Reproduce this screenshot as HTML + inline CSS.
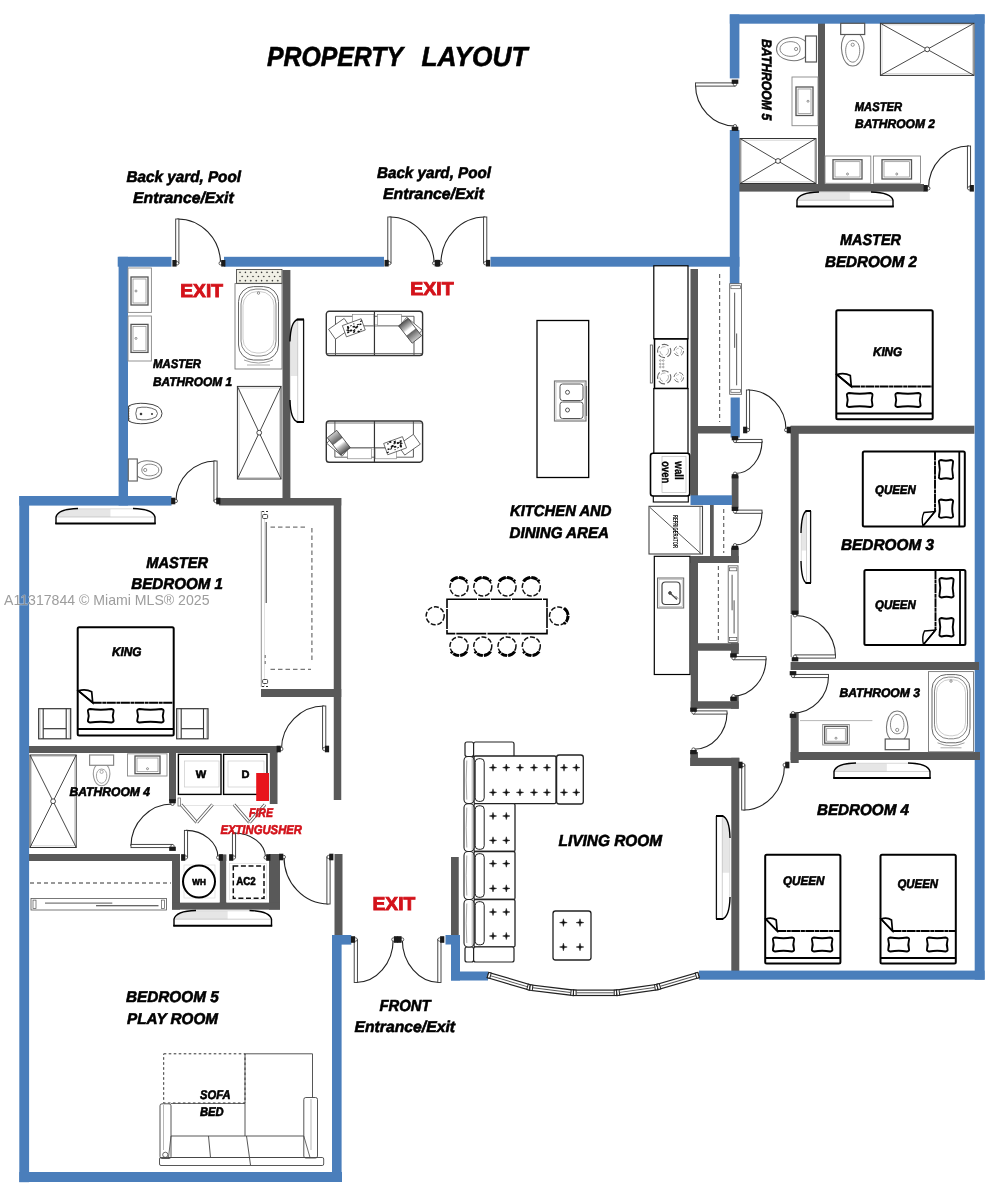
<!DOCTYPE html>
<html lang="en"><head><meta charset="utf-8"><title>Property Layout</title>
<style>html,body{margin:0;padding:0;background:#fff;}svg{display:block;will-change:transform;}</style></head>
<body>
<svg width="1001" height="1200" viewBox="0 0 1001 1200">
<rect width="1001" height="1200" fill="#fff"/>
<defs><linearGradient id="stripe" x1="0" y1="0" x2="1" y2="0">
<stop offset="0" stop-color="#555"/><stop offset="0.3" stop-color="#bbb"/><stop offset="0.42" stop-color="#fff"/><stop offset="0.55" stop-color="#fff"/><stop offset="0.6" stop-color="#666"/><stop offset="1" stop-color="#ccc"/></linearGradient></defs>
<rect x="282.50" y="270.00" width="7.90" height="228.00" fill="#595959" />
<rect x="219.00" y="498.00" width="122.25" height="7.50" fill="#595959" />
<rect x="333.75" y="498.00" width="7.50" height="302.00" fill="#595959" />
<rect x="261.00" y="689.00" width="80.25" height="8.00" fill="#595959" />
<rect x="29.00" y="746.00" width="248.50" height="7.00" fill="#595959" />
<rect x="269.80" y="746.00" width="7.70" height="58.00" fill="#595959" />
<rect x="169.00" y="753.00" width="7.00" height="48.00" fill="#595959" />
<rect x="28.00" y="854.00" width="152.00" height="7.00" fill="#595959" />
<rect x="172.00" y="854.00" width="8.00" height="55.60" fill="#595959" />
<rect x="219.60" y="854.40" width="6.80" height="48.60" fill="#595959" />
<rect x="269.00" y="854.00" width="11.00" height="55.60" fill="#595959" />
<rect x="172.00" y="902.40" width="108.00" height="7.20" fill="#595959" />
<rect x="334.50" y="854.00" width="8.00" height="81.00" fill="#595959" />
<rect x="451.00" y="857.00" width="7.75" height="78.00" fill="#595959" />
<rect x="818.00" y="23.00" width="7.00" height="161.00" fill="#595959" />
<rect x="739.00" y="184.00" width="185.00" height="7.60" fill="#595959" />
<rect x="690.50" y="269.00" width="7.50" height="227.00" fill="#595959" />
<rect x="698.00" y="426.00" width="33.00" height="7.50" fill="#595959" />
<rect x="790.60" y="425.70" width="183.80" height="8.10" fill="#595959" />
<rect x="790.60" y="426.00" width="8.10" height="188.00" fill="#595959" />
<rect x="790.60" y="662.00" width="188.40" height="8.00" fill="#595959" />
<rect x="790.60" y="713.00" width="8.10" height="50.00" fill="#595959" />
<rect x="790.60" y="752.00" width="189.40" height="8.00" fill="#595959" />
<rect x="731.70" y="476.00" width="6.80" height="31.50" fill="#595959" />
<rect x="710.00" y="505.00" width="3.75" height="51.00" fill="#595959" />
<rect x="690.75" y="556.00" width="48.00" height="7.00" fill="#595959" />
<rect x="731.00" y="547.50" width="7.75" height="15.50" fill="#595959" />
<rect x="690.75" y="556.00" width="7.25" height="152.75" fill="#595959" />
<rect x="698.00" y="643.25" width="40.75" height="7.50" fill="#595959" />
<rect x="731.00" y="643.25" width="7.75" height="10.75" fill="#595959" />
<rect x="690.75" y="701.25" width="48.00" height="7.50" fill="#595959" />
<rect x="731.00" y="696.00" width="7.75" height="12.75" fill="#595959" />
<rect x="690.30" y="757.80" width="49.00" height="8.20" fill="#595959" />
<rect x="690.30" y="752.00" width="7.70" height="14.00" fill="#595959" />
<rect x="731.30" y="757.80" width="8.00" height="214.20" fill="#595959" />
<rect x="117.70" y="256.80" width="53.80" height="9.90" fill="#4a7ebb" />
<rect x="224.00" y="256.80" width="160.00" height="9.90" fill="#4a7ebb" />
<rect x="490.50" y="256.80" width="248.90" height="9.90" fill="#4a7ebb" />
<rect x="118.60" y="256.80" width="9.40" height="248.70" fill="#4a7ebb" />
<rect x="19.30" y="496.00" width="152.20" height="9.60" fill="#4a7ebb" />
<rect x="19.30" y="496.00" width="9.80" height="686.20" fill="#4a7ebb" />
<rect x="19.30" y="1172.00" width="322.70" height="10.00" fill="#4a7ebb" />
<rect x="332.00" y="935.00" width="9.60" height="247.00" fill="#4a7ebb" />
<rect x="332.00" y="935.00" width="19.30" height="9.60" fill="#4a7ebb" />
<rect x="445.50" y="935.00" width="14.50" height="9.50" fill="#4a7ebb" />
<rect x="451.00" y="935.00" width="9.00" height="45.50" fill="#4a7ebb" />
<rect x="451.00" y="971.50" width="37.00" height="9.00" fill="#4a7ebb" />
<rect x="729.80" y="14.40" width="254.80" height="9.30" fill="#4a7ebb" />
<rect x="729.80" y="14.40" width="9.60" height="64.00" fill="#4a7ebb" />
<rect x="729.80" y="130.00" width="9.60" height="154.00" fill="#4a7ebb" />
<rect x="730.60" y="397.50" width="9.20" height="40.00" fill="#4a7ebb" />
<rect x="974.70" y="14.40" width="9.90" height="965.30" fill="#4a7ebb" />
<rect x="699.00" y="970.60" width="285.60" height="9.10" fill="#4a7ebb" />
<rect x="690.50" y="495.30" width="41.50" height="9.70" fill="#4a7ebb" />
<rect x="974.00" y="662.00" width="5.00" height="8.00" fill="#595959" />
<rect x="974.00" y="752.00" width="6.00" height="8.00" fill="#595959" />
<path d="M177.3,219.0 A43.2,44.3 0 0 1 220.5,263.3" fill="none" stroke="#222" stroke-width="1.1" />
<rect x="175.70" y="219.00" width="3.20" height="44.30" fill="#fff" stroke="#333" stroke-width="0.9" rx="0" />
<circle cx="177.10" cy="263.30" r="1.70" fill="#fff" stroke="#222" stroke-width="0.7" />
<rect x="172.40" y="260.00" width="4.20" height="6.60" fill="#1a1a1a" />
<circle cx="220.70" cy="263.30" r="1.70" fill="#fff" stroke="#222" stroke-width="0.7" />
<rect x="221.20" y="260.00" width="4.20" height="6.60" fill="#1a1a1a" />
<path d="M389.4,217.0 A44.6,46.2 0 0 1 434.0,263.2" fill="none" stroke="#222" stroke-width="1.1" />
<rect x="387.80" y="217.00" width="3.20" height="46.20" fill="#fff" stroke="#333" stroke-width="0.9" rx="0" />
<circle cx="389.20" cy="263.20" r="1.70" fill="#fff" stroke="#222" stroke-width="0.7" />
<rect x="384.50" y="259.90" width="4.20" height="6.60" fill="#1a1a1a" />
<circle cx="434.20" cy="263.20" r="1.70" fill="#fff" stroke="#222" stroke-width="0.7" />
<rect x="434.70" y="259.90" width="4.20" height="6.60" fill="#1a1a1a" />
<path d="M485.2,217.0 A44.2,46.2 0 0 0 441.0,263.2" fill="none" stroke="#222" stroke-width="1.1" />
<rect x="483.60" y="217.00" width="3.20" height="46.20" fill="#fff" stroke="#333" stroke-width="0.9" rx="0" />
<circle cx="485.40" cy="263.20" r="1.70" fill="#fff" stroke="#222" stroke-width="0.7" />
<rect x="485.90" y="259.90" width="4.20" height="6.60" fill="#1a1a1a" />
<circle cx="440.80" cy="263.20" r="1.70" fill="#fff" stroke="#222" stroke-width="0.7" />
<rect x="436.10" y="259.90" width="4.20" height="6.60" fill="#1a1a1a" />
<path d="M215.5,461.0 A39.5,40.0 0 0 0 176.0,501.0" fill="none" stroke="#222" stroke-width="1.1" />
<rect x="213.90" y="461.00" width="3.20" height="40.00" fill="#fff" stroke="#333" stroke-width="0.9" rx="0" />
<circle cx="215.70" cy="501.00" r="1.70" fill="#fff" stroke="#222" stroke-width="0.7" />
<rect x="216.20" y="497.70" width="4.20" height="6.60" fill="#1a1a1a" />
<circle cx="175.80" cy="501.00" r="1.70" fill="#fff" stroke="#222" stroke-width="0.7" />
<rect x="171.10" y="497.70" width="4.20" height="6.60" fill="#1a1a1a" />
<path d="M324.2,706.0 A42.7,43.0 0 0 0 281.5,749.0" fill="none" stroke="#222" stroke-width="1.1" />
<rect x="322.60" y="706.00" width="3.20" height="43.00" fill="#fff" stroke="#333" stroke-width="0.9" rx="0" />
<circle cx="324.40" cy="749.00" r="1.70" fill="#fff" stroke="#222" stroke-width="0.7" />
<rect x="324.90" y="745.70" width="4.20" height="6.60" fill="#1a1a1a" />
<circle cx="281.30" cy="749.00" r="1.70" fill="#fff" stroke="#222" stroke-width="0.7" />
<rect x="276.60" y="745.70" width="4.20" height="6.60" fill="#1a1a1a" />
<path d="M131.0,846.0 A41.5,42.0 0 0 1 172.5,804.0" fill="none" stroke="#222" stroke-width="1.1" />
<rect x="131.00" y="844.40" width="41.50" height="3.20" fill="#fff" stroke="#333" stroke-width="0.9" rx="0" />
<circle cx="172.50" cy="846.20" r="1.70" fill="#fff" stroke="#222" stroke-width="0.7" />
<rect x="169.20" y="846.70" width="6.60" height="4.20" fill="#1a1a1a" />
<circle cx="172.50" cy="803.80" r="1.70" fill="#fff" stroke="#222" stroke-width="0.7" />
<rect x="169.20" y="799.10" width="6.60" height="4.20" fill="#1a1a1a" />
<path d="M186.0,830.4 A32.0,27.1 0 0 1 218.0,857.5" fill="none" stroke="#222" stroke-width="1.1" />
<rect x="184.40" y="830.40" width="3.20" height="27.10" fill="#fff" stroke="#333" stroke-width="0.9" rx="0" />
<circle cx="185.80" cy="857.50" r="1.70" fill="#fff" stroke="#222" stroke-width="0.7" />
<rect x="181.10" y="854.20" width="4.20" height="6.60" fill="#1a1a1a" />
<circle cx="218.20" cy="857.50" r="1.70" fill="#fff" stroke="#222" stroke-width="0.7" />
<rect x="218.70" y="854.20" width="4.20" height="6.60" fill="#1a1a1a" />
<path d="M234.0,833.0 A31.5,24.5 0 0 1 265.5,857.5" fill="none" stroke="#222" stroke-width="1.1" />
<rect x="232.40" y="833.00" width="3.20" height="24.50" fill="#fff" stroke="#333" stroke-width="0.9" rx="0" />
<circle cx="233.80" cy="857.50" r="1.70" fill="#fff" stroke="#222" stroke-width="0.7" />
<rect x="229.10" y="854.20" width="4.20" height="6.60" fill="#1a1a1a" />
<circle cx="265.70" cy="857.50" r="1.70" fill="#fff" stroke="#222" stroke-width="0.7" />
<rect x="266.20" y="854.20" width="4.20" height="6.60" fill="#1a1a1a" />
<path d="M328.5,904.0 A44.5,47.0 0 0 1 284.0,857.0" fill="none" stroke="#222" stroke-width="1.1" />
<rect x="326.90" y="857.00" width="3.20" height="47.00" fill="#fff" stroke="#333" stroke-width="0.9" rx="0" />
<circle cx="328.70" cy="857.00" r="1.70" fill="#fff" stroke="#222" stroke-width="0.7" />
<rect x="329.20" y="853.70" width="4.20" height="6.60" fill="#1a1a1a" />
<circle cx="283.80" cy="857.00" r="1.70" fill="#fff" stroke="#222" stroke-width="0.7" />
<rect x="279.10" y="853.70" width="4.20" height="6.60" fill="#1a1a1a" />
<path d="M355.8,982.5 A37.4,43.0 0 0 0 393.2,939.5" fill="none" stroke="#222" stroke-width="1.1" />
<rect x="354.20" y="939.50" width="3.20" height="43.00" fill="#fff" stroke="#333" stroke-width="0.9" rx="0" />
<circle cx="355.60" cy="939.50" r="1.70" fill="#fff" stroke="#222" stroke-width="0.7" />
<rect x="350.90" y="936.20" width="4.20" height="6.60" fill="#1a1a1a" />
<circle cx="393.40" cy="939.50" r="1.70" fill="#fff" stroke="#222" stroke-width="0.7" />
<rect x="393.90" y="936.20" width="4.20" height="6.60" fill="#1a1a1a" />
<path d="M439.4,982.5 A37.1,43.0 0 0 1 402.3,939.5" fill="none" stroke="#222" stroke-width="1.1" />
<rect x="437.80" y="939.50" width="3.20" height="43.00" fill="#fff" stroke="#333" stroke-width="0.9" rx="0" />
<circle cx="439.60" cy="939.50" r="1.70" fill="#fff" stroke="#222" stroke-width="0.7" />
<rect x="440.10" y="936.20" width="4.20" height="6.60" fill="#1a1a1a" />
<circle cx="402.10" cy="939.50" r="1.70" fill="#fff" stroke="#222" stroke-width="0.7" />
<rect x="397.40" y="936.20" width="4.20" height="6.60" fill="#1a1a1a" />
<path d="M695.5,84.5 A39.5,41.5 0 0 0 735.0,126.0" fill="none" stroke="#222" stroke-width="1.1" />
<rect x="695.50" y="82.90" width="39.50" height="3.20" fill="#fff" stroke="#333" stroke-width="0.9" rx="0" />
<circle cx="735.00" cy="84.30" r="1.70" fill="#fff" stroke="#222" stroke-width="0.7" />
<rect x="731.70" y="79.60" width="6.60" height="4.20" fill="#1a1a1a" />
<circle cx="735.00" cy="126.20" r="1.70" fill="#fff" stroke="#222" stroke-width="0.7" />
<rect x="731.70" y="126.70" width="6.60" height="4.20" fill="#1a1a1a" />
<path d="M969.0,146.0 A40.5,42.3 0 0 0 928.5,188.3" fill="none" stroke="#222" stroke-width="1.1" />
<rect x="967.40" y="146.00" width="3.20" height="42.30" fill="#fff" stroke="#333" stroke-width="0.9" rx="0" />
<circle cx="969.20" cy="188.30" r="1.70" fill="#fff" stroke="#222" stroke-width="0.7" />
<rect x="969.70" y="185.00" width="4.20" height="6.60" fill="#1a1a1a" />
<circle cx="928.30" cy="188.30" r="1.70" fill="#fff" stroke="#222" stroke-width="0.7" />
<rect x="923.60" y="185.00" width="4.20" height="6.60" fill="#1a1a1a" />
<path d="M748.0,390.0 A38.0,40.0 0 0 1 786.0,430.0" fill="none" stroke="#222" stroke-width="1.1" />
<rect x="746.40" y="390.00" width="3.20" height="40.00" fill="#fff" stroke="#333" stroke-width="0.9" rx="0" />
<circle cx="747.80" cy="430.00" r="1.70" fill="#fff" stroke="#222" stroke-width="0.7" />
<rect x="743.10" y="426.70" width="4.20" height="6.60" fill="#1a1a1a" />
<circle cx="786.20" cy="430.00" r="1.70" fill="#fff" stroke="#222" stroke-width="0.7" />
<rect x="786.70" y="426.70" width="4.20" height="6.60" fill="#1a1a1a" />
<path d="M762.0,441.0 A27.0,32.5 0 0 1 735.0,473.5" fill="none" stroke="#222" stroke-width="1.1" />
<rect x="735.00" y="439.40" width="27.00" height="3.20" fill="#fff" stroke="#333" stroke-width="0.9" rx="0" />
<circle cx="735.00" cy="440.80" r="1.70" fill="#fff" stroke="#222" stroke-width="0.7" />
<rect x="731.70" y="436.10" width="6.60" height="4.20" fill="#1a1a1a" />
<circle cx="735.00" cy="473.70" r="1.70" fill="#fff" stroke="#222" stroke-width="0.7" />
<rect x="731.70" y="474.20" width="6.60" height="4.20" fill="#1a1a1a" />
<path d="M762.0,511.7 A27.0,33.3 0 0 1 735.0,545.0" fill="none" stroke="#222" stroke-width="1.1" />
<rect x="735.00" y="510.10" width="27.00" height="3.20" fill="#fff" stroke="#333" stroke-width="0.9" rx="0" />
<circle cx="735.00" cy="511.50" r="1.70" fill="#fff" stroke="#222" stroke-width="0.7" />
<rect x="731.70" y="506.80" width="6.60" height="4.20" fill="#1a1a1a" />
<circle cx="735.00" cy="545.20" r="1.70" fill="#fff" stroke="#222" stroke-width="0.7" />
<rect x="731.70" y="545.70" width="6.60" height="4.20" fill="#1a1a1a" />
<path d="M766.0,658.2 A32.5,37.8 0 0 1 733.5,696.0" fill="none" stroke="#222" stroke-width="1.1" />
<rect x="733.50" y="656.60" width="32.50" height="3.20" fill="#fff" stroke="#333" stroke-width="0.9" rx="0" />
<circle cx="733.50" cy="658.00" r="1.70" fill="#fff" stroke="#222" stroke-width="0.7" />
<rect x="730.20" y="653.30" width="6.60" height="4.20" fill="#1a1a1a" />
<circle cx="733.50" cy="696.20" r="1.70" fill="#fff" stroke="#222" stroke-width="0.7" />
<rect x="730.20" y="696.70" width="6.60" height="4.20" fill="#1a1a1a" />
<path d="M727.0,712.5 A33.5,36.8 0 0 1 693.5,749.3" fill="none" stroke="#222" stroke-width="1.1" />
<rect x="693.50" y="710.90" width="33.50" height="3.20" fill="#fff" stroke="#333" stroke-width="0.9" rx="0" />
<circle cx="693.50" cy="712.30" r="1.70" fill="#fff" stroke="#222" stroke-width="0.7" />
<rect x="690.20" y="707.60" width="6.60" height="4.20" fill="#1a1a1a" />
<circle cx="693.50" cy="749.50" r="1.70" fill="#fff" stroke="#222" stroke-width="0.7" />
<rect x="690.20" y="750.00" width="6.60" height="4.20" fill="#1a1a1a" />
<path d="M835.5,656.5 A40.5,41.0 0 0 0 795.0,615.5" fill="none" stroke="#222" stroke-width="1.1" />
<rect x="795.00" y="654.90" width="40.50" height="3.20" fill="#fff" stroke="#333" stroke-width="0.9" rx="0" />
<circle cx="795.00" cy="656.70" r="1.70" fill="#fff" stroke="#222" stroke-width="0.7" />
<rect x="791.70" y="657.20" width="6.60" height="4.20" fill="#1a1a1a" />
<circle cx="795.00" cy="615.30" r="1.70" fill="#fff" stroke="#222" stroke-width="0.7" />
<rect x="791.70" y="610.60" width="6.60" height="4.20" fill="#1a1a1a" />
<path d="M828.5,676.0 A35.5,37.0 0 0 1 793.0,713.0" fill="none" stroke="#222" stroke-width="1.1" />
<rect x="793.00" y="674.40" width="35.50" height="3.20" fill="#fff" stroke="#333" stroke-width="0.9" rx="0" />
<circle cx="793.00" cy="675.80" r="1.70" fill="#fff" stroke="#222" stroke-width="0.7" />
<rect x="789.70" y="671.10" width="6.60" height="4.20" fill="#1a1a1a" />
<circle cx="793.00" cy="713.20" r="1.70" fill="#fff" stroke="#222" stroke-width="0.7" />
<rect x="789.70" y="713.70" width="6.60" height="4.20" fill="#1a1a1a" />
<path d="M743.3,810.0 A41.2,45.0 0 0 0 784.5,765.0" fill="none" stroke="#222" stroke-width="1.1" />
<rect x="741.70" y="765.00" width="3.20" height="45.00" fill="#fff" stroke="#333" stroke-width="0.9" rx="0" />
<circle cx="743.10" cy="765.00" r="1.70" fill="#fff" stroke="#222" stroke-width="0.7" />
<rect x="738.40" y="761.70" width="4.20" height="6.60" fill="#1a1a1a" />
<circle cx="784.70" cy="765.00" r="1.70" fill="#fff" stroke="#222" stroke-width="0.7" />
<rect x="785.20" y="761.70" width="4.20" height="6.60" fill="#1a1a1a" />
<line x1="791.20" y1="615.00" x2="791.20" y2="657.00" stroke="#444" stroke-width="0.8" />
<path d="M56,524 L56,517.025 Q58,509.0 78,508.5 L133,508.5 Q153,509.0 155,517.025 L155,524 Z" fill="#fff" stroke="none"/>
<path d="M57,517.025 Q59,509.3 78,509.0 L110.45,509.0 L110.45,517.025 Z" fill="#e6e6e6" stroke="none"/>
<line x1="56.00" y1="517.02" x2="155.00" y2="517.02" stroke="#bbb" stroke-width="0.7" />
<line x1="78.00" y1="508.80" x2="133.00" y2="508.80" stroke="#ccc" stroke-width="0.7" />
<path d="M56,524 L56,517.025 Q58,509.0 78,508.5" fill="none" stroke="#000" stroke-width="1.4" />
<path d="M133,508.5 Q153,509.0 155,517.025 L155,524" fill="none" stroke="#000" stroke-width="1.4" />
<line x1="55.30" y1="523.50" x2="155.70" y2="523.50" stroke="#000" stroke-width="2" />
<path d="M174,926.3 L174,919.1899999999999 Q176,911.0 196,910.5 L249.5,910.5 Q269.5,911.0 271.5,919.1899999999999 L271.5,926.3 Z" fill="#fff" stroke="none"/>
<path d="M175,919.1899999999999 Q177,911.3 196,911.0 L227.625,911.0 L227.625,919.1899999999999 Z" fill="#e6e6e6" stroke="none"/>
<line x1="174.00" y1="919.19" x2="271.50" y2="919.19" stroke="#bbb" stroke-width="0.7" />
<line x1="196.00" y1="910.80" x2="249.50" y2="910.80" stroke="#ccc" stroke-width="0.7" />
<path d="M174,926.3 L174,919.1899999999999 Q176,911.0 196,910.5" fill="none" stroke="#000" stroke-width="1.4" />
<path d="M249.5,910.5 Q269.5,911.0 271.5,919.1899999999999 L271.5,926.3" fill="none" stroke="#000" stroke-width="1.4" />
<line x1="173.30" y1="925.80" x2="272.20" y2="925.80" stroke="#000" stroke-width="2" />
<path d="M797,207 L797,200.25 Q799,192.5 819,192 L871,192 Q891,192.5 893,200.25 L893,207 Z" fill="#fff" stroke="none"/>
<path d="M798,200.25 Q800,192.8 819,192.5 L849.8,192.5 L849.8,200.25 Z" fill="#e6e6e6" stroke="none"/>
<line x1="797.00" y1="200.25" x2="893.00" y2="200.25" stroke="#bbb" stroke-width="0.7" />
<line x1="819.00" y1="192.30" x2="871.00" y2="192.30" stroke="#ccc" stroke-width="0.7" />
<path d="M797,207 L797,200.25 Q799,192.5 819,192" fill="none" stroke="#000" stroke-width="1.4" />
<path d="M871,192 Q891,192.5 893,200.25 L893,207" fill="none" stroke="#000" stroke-width="1.4" />
<line x1="796.30" y1="206.50" x2="893.70" y2="206.50" stroke="#000" stroke-width="2" />
<path d="M834,778.4 L834,771.47 Q836,763.5 856,763 L908,763 Q928,763.5 930,771.47 L930,778.4 Z" fill="#fff" stroke="none"/>
<path d="M835,771.47 Q837,763.8 856,763.5 L886.8,763.5 L886.8,771.47 Z" fill="#e6e6e6" stroke="none"/>
<line x1="834.00" y1="771.47" x2="930.00" y2="771.47" stroke="#bbb" stroke-width="0.7" />
<line x1="856.00" y1="763.30" x2="908.00" y2="763.30" stroke="#ccc" stroke-width="0.7" />
<path d="M834,778.4 L834,771.47 Q836,763.5 856,763" fill="none" stroke="#000" stroke-width="1.4" />
<path d="M908,763 Q928,763.5 930,771.47 L930,778.4" fill="none" stroke="#000" stroke-width="1.4" />
<line x1="833.30" y1="777.90" x2="930.70" y2="777.90" stroke="#000" stroke-width="2" />
<path d="M304,319.5 L297.7,319.5 Q290.5,321.5 290,341.5 L290,400 Q290.5,420 297.7,422 L304,422 Z" fill="#fff" stroke="none"/>
<path d="M297.7,320.5 Q290.8,322.5 290.5,341.5 L290.5,375.875 L297.7,375.875 Z" fill="#e6e6e6" stroke="none"/>
<line x1="297.70" y1="319.50" x2="297.70" y2="422.00" stroke="#bbb" stroke-width="0.7" />
<line x1="290.30" y1="341.50" x2="290.30" y2="400.00" stroke="#ccc" stroke-width="0.7" />
<path d="M304,319.5 L297.7,319.5 Q290.5,321.5 290,341.5" fill="none" stroke="#000" stroke-width="1.4" />
<path d="M290,400 Q290.5,420 297.7,422 L304,422" fill="none" stroke="#000" stroke-width="1.4" />
<line x1="303.60" y1="319.50" x2="303.60" y2="422.00" stroke="#111" stroke-width="1.3" />
<line x1="296.70" y1="319.50" x2="304.00" y2="319.50" stroke="#000" stroke-width="2" />
<line x1="296.70" y1="422.00" x2="304.00" y2="422.00" stroke="#000" stroke-width="2" />
<path d="M811,511 L806.5,511 Q801.5,513 801,533 L801,561 Q801.5,581 806.5,583 L811,583 Z" fill="#fff" stroke="none"/>
<path d="M806.5,512 Q801.8,514 801.5,533 L801.5,550.6 L806.5,550.6 Z" fill="#e6e6e6" stroke="none"/>
<line x1="806.50" y1="511.00" x2="806.50" y2="583.00" stroke="#bbb" stroke-width="0.7" />
<line x1="801.30" y1="533.00" x2="801.30" y2="561.00" stroke="#ccc" stroke-width="0.7" />
<path d="M811,511 L806.5,511 Q801.5,513 801,533" fill="none" stroke="#000" stroke-width="1.4" />
<path d="M801,561 Q801.5,581 806.5,583 L811,583" fill="none" stroke="#000" stroke-width="1.4" />
<line x1="810.60" y1="511.00" x2="810.60" y2="583.00" stroke="#111" stroke-width="1.3" />
<line x1="805.50" y1="511.00" x2="811.00" y2="511.00" stroke="#000" stroke-width="2" />
<line x1="805.50" y1="583.00" x2="811.00" y2="583.00" stroke="#000" stroke-width="2" />
<path d="M716,816 L722.3,816 Q729.5,818 730,838 L730,897 Q729.5,917 722.3,919 L716,919 Z" fill="#fff" stroke="none"/>
<path d="M722.3,817 Q729.2,819 729.5,838 L729.5,872.65 L722.3,872.65 Z" fill="#e6e6e6" stroke="none"/>
<line x1="722.30" y1="816.00" x2="722.30" y2="919.00" stroke="#bbb" stroke-width="0.7" />
<line x1="729.70" y1="838.00" x2="729.70" y2="897.00" stroke="#ccc" stroke-width="0.7" />
<path d="M716,816 L722.3,816 Q729.5,818 730,838" fill="none" stroke="#000" stroke-width="1.4" />
<path d="M730,897 Q729.5,917 722.3,919 L716,919" fill="none" stroke="#000" stroke-width="1.4" />
<line x1="716.40" y1="816.00" x2="716.40" y2="919.00" stroke="#111" stroke-width="1.3" />
<line x1="723.30" y1="816.00" x2="716.00" y2="816.00" stroke="#000" stroke-width="2" />
<line x1="723.30" y1="919.00" x2="716.00" y2="919.00" stroke="#000" stroke-width="2" />
<rect x="77.70" y="627.30" width="96.00" height="108.20" fill="#fff" stroke="#000" stroke-width="2" rx="1.5" />
<path d="M92.7,702.7 L173.7,702.7" fill="none" stroke="#000" stroke-width="1.9" stroke-dasharray="9 0.6 4 0.5"/>
<path d="M78.2,690.7 Q85.95,688.7 91.7,691.7 L92.7,702.7 Z" fill="#fff" stroke="#000" stroke-width="1.7" />
<path d="M78.2,690.7 L92.7,702.7" fill="none" stroke="#000" stroke-width="1.7" />
<line x1="77.70" y1="729.00" x2="173.70" y2="729.00" stroke="#000" stroke-width="1.8" />
<path d="M90,709 Q100.75,710.6 111.5,709 Q114.1,709.4 113.5,711.5 Q112.1,715.75 113.5,720.0 Q114.1,722.1 111.5,722.5 Q100.75,720.9 90,722.5 Q87.4,722.1 88,720.0 Q89.4,715.75 88,711.5 Q87.4,709.4 90,709 Z" fill="#fff" stroke="#000" stroke-width="1.9" />
<path d="M139.3,709 Q150.4,710.6 161.5,709 Q164.1,709.4 163.5,711.5 Q162.1,715.75 163.5,720.0 Q164.1,722.1 161.5,722.5 Q150.4,720.9 139.3,722.5 Q136.70000000000002,722.1 137.3,720.0 Q138.70000000000002,715.75 137.3,711.5 Q136.70000000000002,709.4 139.3,709 Z" fill="#fff" stroke="#000" stroke-width="1.9" />
<rect x="836.30" y="310.30" width="96.40" height="109.00" fill="#fff" stroke="#000" stroke-width="2" rx="1.5" />
<path d="M851.3,386.5 L932.7,386.5" fill="none" stroke="#000" stroke-width="1.9" stroke-dasharray="9 0.6 4 0.5"/>
<path d="M836.8,374.5 Q844.55,372.5 850.3,375.5 L851.3,386.5 Z" fill="#fff" stroke="#000" stroke-width="1.7" />
<path d="M836.8,374.5 L851.3,386.5" fill="none" stroke="#000" stroke-width="1.7" />
<line x1="836.30" y1="413.50" x2="932.70" y2="413.50" stroke="#000" stroke-width="1.8" />
<path d="M849,393 Q859.7,394.6 870.4,393 Q873.0,393.4 872.4,395.5 Q871.0,400.0 872.4,404.5 Q873.0,406.6 870.4,407 Q859.7,405.4 849,407 Q846.4,406.6 847,404.5 Q848.4,400.0 847,395.5 Q846.4,393.4 849,393 Z" fill="#fff" stroke="#000" stroke-width="1.9" />
<path d="M897.5,393 Q908.0,394.6 918.5,393 Q921.1,393.4 920.5,395.5 Q919.1,400.0 920.5,404.5 Q921.1,406.6 918.5,407 Q908.0,405.4 897.5,407 Q894.9,406.6 895.5,404.5 Q896.9,400.0 895.5,395.5 Q894.9,393.4 897.5,393 Z" fill="#fff" stroke="#000" stroke-width="1.9" />
<rect x="765.20" y="854.80" width="75.20" height="108.80" fill="#fff" stroke="#000" stroke-width="2" rx="1.5" />
<path d="M777.2,931 L840.4,931" fill="none" stroke="#000" stroke-width="1.9" stroke-dasharray="9 0.6 4 0.5"/>
<path d="M765.7,919 Q771.8000000000001,917 776.2,920 L777.2,931 Z" fill="#fff" stroke="#000" stroke-width="1.7" />
<path d="M765.7,919 L777.2,931" fill="none" stroke="#000" stroke-width="1.7" />
<line x1="765.20" y1="958.00" x2="840.40" y2="958.00" stroke="#000" stroke-width="1.8" />
<path d="M775,937.5 Q783.5,939.1 792,937.5 Q794.6,937.9 794,940.0 Q792.6,944.5 794,949.0 Q794.6,951.1 792,951.5 Q783.5,949.9 775,951.5 Q772.4,951.1 773,949.0 Q774.4,944.5 773,940.0 Q772.4,937.9 775,937.5 Z" fill="#fff" stroke="#000" stroke-width="1.9" />
<path d="M814,937.5 Q822.15,939.1 830.3,937.5 Q832.9,937.9 832.3,940.0 Q830.9,944.5 832.3,949.0 Q832.9,951.1 830.3,951.5 Q822.15,949.9 814,951.5 Q811.4,951.1 812,949.0 Q813.4,944.5 812,940.0 Q811.4,937.9 814,937.5 Z" fill="#fff" stroke="#000" stroke-width="1.9" />
<rect x="880.50" y="854.80" width="75.30" height="108.80" fill="#fff" stroke="#000" stroke-width="2" rx="1.5" />
<path d="M892.5,931 L955.8,931" fill="none" stroke="#000" stroke-width="1.9" stroke-dasharray="9 0.6 4 0.5"/>
<path d="M881.0,919 Q887.1,917 891.5,920 L892.5,931 Z" fill="#fff" stroke="#000" stroke-width="1.7" />
<path d="M881.0,919 L892.5,931" fill="none" stroke="#000" stroke-width="1.7" />
<line x1="880.50" y1="958.00" x2="955.80" y2="958.00" stroke="#000" stroke-width="1.8" />
<path d="M890.3,937.5 Q898.65,939.1 907,937.5 Q909.6,937.9 909,940.0 Q907.6,944.5 909,949.0 Q909.6,951.1 907,951.5 Q898.65,949.9 890.3,951.5 Q887.6999999999999,951.1 888.3,949.0 Q889.6999999999999,944.5 888.3,940.0 Q887.6999999999999,937.9 890.3,937.5 Z" fill="#fff" stroke="#000" stroke-width="1.9" />
<path d="M929,937.5 Q937.25,939.1 945.5,937.5 Q948.1,937.9 947.5,940.0 Q946.1,944.5 947.5,949.0 Q948.1,951.1 945.5,951.5 Q937.25,949.9 929,951.5 Q926.4,951.1 927,949.0 Q928.4,944.5 927,940.0 Q926.4,937.9 929,937.5 Z" fill="#fff" stroke="#000" stroke-width="1.9" />
<rect x="862.80" y="451.60" width="102.00" height="74.90" fill="#fff" stroke="#000" stroke-width="2" rx="1.5" />
<path d="M935,451.6 L935,511.5" fill="none" stroke="#000" stroke-width="1.9" stroke-dasharray="9 0.6 4 0.5"/>
<path d="M923,526.0 Q921,518.5 924,512.5 L935,511.5 Z" fill="#fff" stroke="#000" stroke-width="1.4" />
<path d="M923,526.0 L935,511.5" fill="none" stroke="#000" stroke-width="1.4" />
<line x1="959.30" y1="451.60" x2="959.30" y2="526.50" stroke="#000" stroke-width="1.8" />
<g transform="translate(939,460)">
<path d="M2,0 Q7.0,1.4 12,0 Q14.6,0.4 14,2.5 Q12.4,9.5 14,16.5 Q14.6,18.6 12,19 Q7.0,17.6 2,19 Q-0.6,18.6 0,16.5 Q1.6,9.5 0,2.5 Q-0.6,0.4 2,0 Z" fill="#fff" stroke="#000" stroke-width="1.9" />
</g>
<g transform="translate(939,499.5)">
<path d="M2,0 Q7.0,1.4 12,0 Q14.6,0.4 14,2.5 Q12.4,9.149999999999977 14,15.799999999999955 Q14.6,17.899999999999956 12,18.299999999999955 Q7.0,16.899999999999956 2,18.299999999999955 Q-0.6,17.899999999999956 0,15.799999999999955 Q1.6,9.149999999999977 0,2.5 Q-0.6,0.4 2,0 Z" fill="#fff" stroke="#000" stroke-width="1.9" />
</g>
<rect x="864.40" y="570.00" width="101.00" height="75.00" fill="#fff" stroke="#000" stroke-width="2" rx="1.5" />
<path d="M935.5,570 L935.5,630" fill="none" stroke="#000" stroke-width="1.9" stroke-dasharray="9 0.6 4 0.5"/>
<path d="M923.5,644.5 Q921.5,637 924.5,631 L935.5,630 Z" fill="#fff" stroke="#000" stroke-width="1.4" />
<path d="M923.5,644.5 L935.5,630" fill="none" stroke="#000" stroke-width="1.4" />
<line x1="960.00" y1="570.00" x2="960.00" y2="645.00" stroke="#000" stroke-width="1.8" />
<g transform="translate(939.5,578)">
<path d="M2,0 Q7.0,1.4 12.0,0 Q14.6,0.4 14.0,2.5 Q12.4,9.75 14.0,17.0 Q14.6,19.1 12.0,19.5 Q7.0,18.1 2,19.5 Q-0.6,19.1 0,17.0 Q1.6,9.75 0,2.5 Q-0.6,0.4 2,0 Z" fill="#fff" stroke="#000" stroke-width="1.9" />
</g>
<g transform="translate(939.5,618)">
<path d="M2,0 Q7.0,1.4 12.0,0 Q14.6,0.4 14.0,2.5 Q12.4,9.25 14.0,16.0 Q14.6,18.1 12.0,18.5 Q7.0,17.1 2,18.5 Q-0.6,18.1 0,16.0 Q1.6,9.25 0,2.5 Q-0.6,0.4 2,0 Z" fill="#fff" stroke="#000" stroke-width="1.9" />
</g>
<rect x="38.70" y="708.70" width="32.00" height="30.10" fill="#fff" stroke="#333" stroke-width="1.2" rx="0" />
<line x1="43.20" y1="708.70" x2="43.20" y2="738.80" stroke="#333" stroke-width="1.1" />
<line x1="66.20" y1="708.70" x2="66.20" y2="738.80" stroke="#333" stroke-width="1.1" />
<line x1="43.20" y1="728.70" x2="66.20" y2="728.70" stroke="#333" stroke-width="1.2" />
<line x1="40.20" y1="708.70" x2="40.20" y2="738.80" stroke="#999" stroke-width="0.5" />
<line x1="69.20" y1="708.70" x2="69.20" y2="738.80" stroke="#999" stroke-width="0.5" />
<rect x="176.70" y="708.70" width="31.30" height="30.10" fill="#fff" stroke="#333" stroke-width="1.2" rx="0" />
<line x1="181.20" y1="708.70" x2="181.20" y2="738.80" stroke="#333" stroke-width="1.1" />
<line x1="203.50" y1="708.70" x2="203.50" y2="738.80" stroke="#333" stroke-width="1.1" />
<line x1="181.20" y1="728.70" x2="203.50" y2="728.70" stroke="#333" stroke-width="1.2" />
<line x1="178.20" y1="708.70" x2="178.20" y2="738.80" stroke="#999" stroke-width="0.5" />
<line x1="206.50" y1="708.70" x2="206.50" y2="738.80" stroke="#999" stroke-width="0.5" />
<rect x="237.40" y="386.40" width="43.60" height="92.60" fill="#fff" stroke="#333" stroke-width="1" rx="0" />
<rect x="239.00" y="388.00" width="40.40" height="89.40" fill="none" stroke="#aaa" stroke-width="0.5" rx="0" />
<line x1="237.40" y1="386.40" x2="281.00" y2="479.00" stroke="#333" stroke-width="0.9" />
<line x1="237.40" y1="479.00" x2="281.00" y2="386.40" stroke="#333" stroke-width="0.9" />
<circle cx="259.20" cy="432.70" r="2.40" fill="#fff" stroke="#333" stroke-width="0.9" />
<rect x="30.00" y="755.00" width="46.20" height="92.50" fill="#fff" stroke="#333" stroke-width="1" rx="0" />
<rect x="31.60" y="756.60" width="43.00" height="89.30" fill="none" stroke="#aaa" stroke-width="0.5" rx="0" />
<line x1="30.00" y1="755.00" x2="76.20" y2="847.50" stroke="#333" stroke-width="0.9" />
<line x1="30.00" y1="847.50" x2="76.20" y2="755.00" stroke="#333" stroke-width="0.9" />
<circle cx="53.10" cy="801.25" r="2.40" fill="#fff" stroke="#333" stroke-width="0.9" />
<rect x="740.00" y="138.50" width="76.00" height="45.00" fill="#fff" stroke="#333" stroke-width="1" rx="0" />
<rect x="741.60" y="140.10" width="72.80" height="41.80" fill="none" stroke="#aaa" stroke-width="0.5" rx="0" />
<line x1="740.00" y1="138.50" x2="816.00" y2="183.50" stroke="#333" stroke-width="0.9" />
<line x1="740.00" y1="183.50" x2="816.00" y2="138.50" stroke="#333" stroke-width="0.9" />
<circle cx="778.00" cy="161.00" r="2.40" fill="#fff" stroke="#333" stroke-width="0.9" />
<rect x="880.40" y="23.30" width="93.60" height="52.10" fill="#fff" stroke="#333" stroke-width="1" rx="0" />
<rect x="882.00" y="24.90" width="90.40" height="48.90" fill="none" stroke="#aaa" stroke-width="0.5" rx="0" />
<line x1="880.40" y1="23.30" x2="974.00" y2="75.40" stroke="#333" stroke-width="0.9" />
<line x1="880.40" y1="75.40" x2="974.00" y2="23.30" stroke="#333" stroke-width="0.9" />
<circle cx="927.20" cy="49.35" r="2.40" fill="#fff" stroke="#333" stroke-width="0.9" />
<rect x="128.00" y="268.00" width="23.40" height="44.40" fill="#fff" stroke="#888" stroke-width="0.9" rx="0" />
<rect x="131.00" y="277.00" width="17.00" height="28.00" fill="#fff" stroke="#555" stroke-width="1.3" rx="0" />
<rect x="133.00" y="279.00" width="13.00" height="24.00" fill="#fff" stroke="#888" stroke-width="0.7" rx="0" />
<circle cx="136.00" cy="291.00" r="1.00" fill="none" stroke="#666" stroke-width="0.7" />
<rect x="128.00" y="316.00" width="23.40" height="45.00" fill="#fff" stroke="#888" stroke-width="0.9" rx="0" />
<rect x="131.00" y="324.40" width="17.00" height="28.00" fill="#fff" stroke="#555" stroke-width="1.3" rx="0" />
<rect x="133.00" y="326.40" width="13.00" height="24.00" fill="#fff" stroke="#888" stroke-width="0.7" rx="0" />
<circle cx="136.00" cy="338.40" r="1.00" fill="none" stroke="#666" stroke-width="0.7" />
<rect x="127.50" y="753.80" width="39.50" height="22.20" fill="#fff" stroke="#888" stroke-width="0.9" rx="0" />
<rect x="135.00" y="756.00" width="25.00" height="17.70" fill="#fff" stroke="#555" stroke-width="1.3" rx="0" />
<rect x="137.00" y="758.00" width="21.00" height="13.70" fill="#fff" stroke="#888" stroke-width="0.7" rx="0" />
<circle cx="147.50" cy="768.70" r="1.00" fill="none" stroke="#666" stroke-width="0.7" />
<rect x="792.00" y="77.00" width="26.00" height="48.70" fill="#fff" stroke="#888" stroke-width="0.9" rx="0" />
<rect x="796.00" y="87.00" width="17.00" height="28.50" fill="#fff" stroke="#555" stroke-width="1.3" rx="0" />
<rect x="798.00" y="89.00" width="13.00" height="24.50" fill="#fff" stroke="#888" stroke-width="0.7" rx="0" />
<circle cx="808.00" cy="101.25" r="1.00" fill="none" stroke="#666" stroke-width="0.7" />
<rect x="825.00" y="156.00" width="45.80" height="27.30" fill="#fff" stroke="#888" stroke-width="0.9" rx="0" />
<rect x="833.00" y="159.70" width="29.00" height="19.30" fill="#fff" stroke="#555" stroke-width="1.3" rx="0" />
<rect x="835.00" y="161.70" width="25.00" height="15.30" fill="#fff" stroke="#888" stroke-width="0.7" rx="0" />
<circle cx="847.50" cy="174.00" r="1.00" fill="none" stroke="#666" stroke-width="0.7" />
<rect x="873.40" y="156.00" width="47.10" height="27.30" fill="#fff" stroke="#888" stroke-width="0.9" rx="0" />
<rect x="882.00" y="159.70" width="29.50" height="19.30" fill="#fff" stroke="#555" stroke-width="1.3" rx="0" />
<rect x="884.00" y="161.70" width="25.50" height="15.30" fill="#fff" stroke="#888" stroke-width="0.7" rx="0" />
<circle cx="896.75" cy="174.00" r="1.00" fill="none" stroke="#666" stroke-width="0.7" />
<line x1="800.00" y1="720.60" x2="872.40" y2="720.60" stroke="#999" stroke-width="0.7" />
<rect x="822.70" y="724.50" width="26.60" height="20.50" fill="#fff" stroke="#888" stroke-width="0.9" rx="0" />
<rect x="824.70" y="726.30" width="22.60" height="16.90" fill="#fff" stroke="#555" stroke-width="1.3" rx="0" />
<rect x="826.70" y="728.30" width="18.60" height="12.90" fill="#fff" stroke="#888" stroke-width="0.7" rx="0" />
<circle cx="836.00" cy="738.20" r="1.00" fill="none" stroke="#666" stroke-width="0.7" />
<g transform="translate(128.3,470) rotate(-90)">
<path d="M-5.7,8.5 C-12.35,16.0 -9.025,33.5 0,33.5 C9.025,33.5 12.35,16.0 5.7,8.5 Z" fill="#fff" stroke="#777" stroke-width="1.1" />
<path d="M0,13.5 C-8.398000000000001,13.5 -7.106000000000002,30.5 0,30.5 C7.106000000000002,30.5 8.398000000000001,13.5 0,13.5 Z" fill="#fff" stroke="#777" stroke-width="0.9" />
<circle cx="0.00" cy="16.90" r="1.60" fill="none" stroke="#777" stroke-width="0.8" />
<rect x="-11.00" y="0.00" width="22.00" height="9.00" fill="#fff" stroke="#666" stroke-width="1.2" rx="0" />
</g>
<path d="M128.5,406 Q135,402.5 146,403.5 Q162,405 162,413.5 Q162,422 146,423.5 Q135,424.5 128.5,421 Z" fill="#fff" stroke="#444" stroke-width="1" />
<path d="M137,408 Q147,405.5 156,410 Q159,413.5 156,417 Q147,421.5 137,419 Q134.5,413.5 137,408 Z" fill="#fff" stroke="#444" stroke-width="0.8" />
<circle cx="141.00" cy="414.00" r="0.90" fill="#222" stroke="#222" stroke-width="0.8" />
<circle cx="152.00" cy="414.00" r="0.70" fill="#222" stroke="#222" stroke-width="0.6" />
<path d="M130,405.5 Q127.5,413.5 130,421.5" fill="none" stroke="#444" stroke-width="0.7" stroke-dasharray="1.5 1"/>
<g transform="translate(101.6,755) rotate(0)">
<path d="M-5.1,9.8 C-11.05,16.1 -8.075,30.8 0,30.8 C8.075,30.8 11.05,16.1 5.1,9.8 Z" fill="#fff" stroke="#999" stroke-width="1.1" />
<path d="M0,14.0 C-7.514,14.0 -6.3580000000000005,28.28 0,28.28 C6.3580000000000005,28.28 7.514,14.0 0,14.0 Z" fill="#fff" stroke="#999" stroke-width="0.9" />
<circle cx="0.00" cy="16.86" r="1.60" fill="none" stroke="#999" stroke-width="0.8" />
<rect x="-12.00" y="0.00" width="24.00" height="10.30" fill="#fff" stroke="#888" stroke-width="1.2" rx="0" />
</g>
<g transform="translate(816.5,49) rotate(90)">
<path d="M-7.199999999999999,10.5 C-15.600000000000001,19.35 -11.399999999999999,40.0 0,40.0 C11.399999999999999,40.0 15.600000000000001,19.35 7.199999999999999,10.5 Z" fill="#fff" stroke="#777" stroke-width="1.1" />
<path d="M0,16.4 C-10.608,16.4 -8.976,36.46 0,36.46 C8.976,36.46 10.608,16.4 0,16.4 Z" fill="#fff" stroke="#777" stroke-width="0.9" />
<circle cx="0.00" cy="20.41" r="1.60" fill="none" stroke="#777" stroke-width="0.8" />
<rect x="-13.00" y="0.00" width="26.00" height="11.00" fill="#fff" stroke="#555" stroke-width="1.2" rx="0" />
</g>
<g transform="translate(852.7,23.3) rotate(0)">
<path d="M-6.8999999999999995,10.7 C-14.950000000000001,20.299999999999997 -10.924999999999999,42.7 0,42.7 C10.924999999999999,42.7 14.950000000000001,20.299999999999997 6.8999999999999995,10.7 Z" fill="#fff" stroke="#777" stroke-width="1.1" />
<path d="M0,17.1 C-10.166,17.1 -8.602,38.86 0,38.86 C8.602,38.86 10.166,17.1 0,17.1 Z" fill="#fff" stroke="#777" stroke-width="0.9" />
<circle cx="0.00" cy="21.45" r="1.60" fill="none" stroke="#777" stroke-width="0.8" />
<rect x="-12.00" y="0.00" width="24.00" height="11.20" fill="#fff" stroke="#555" stroke-width="1.2" rx="0" />
</g>
<g transform="translate(897.2,749.7) rotate(180)">
<path d="M-6.6,10.2 C-14.3,18.75 -10.45,38.7 0,38.7 C10.45,38.7 14.3,18.75 6.6,10.2 Z" fill="#fff" stroke="#777" stroke-width="1.1" />
<path d="M0,15.899999999999999 C-9.724,15.899999999999999 -8.228000000000002,35.28 0,35.28 C8.228000000000002,35.28 9.724,15.899999999999999 0,15.899999999999999 Z" fill="#fff" stroke="#777" stroke-width="0.9" />
<circle cx="0.00" cy="19.78" r="1.60" fill="none" stroke="#777" stroke-width="0.8" />
<rect x="-12.00" y="0.00" width="24.00" height="10.70" fill="#fff" stroke="#555" stroke-width="1.2" rx="0" />
</g>
<rect x="235.00" y="283.60" width="47.00" height="85.40" fill="#fff" stroke="#777" stroke-width="0.9" rx="0" />
<rect x="238.50" y="286.60" width="40.00" height="73.40" fill="none" stroke="#666" stroke-width="1" rx="15.0" />
<rect x="241.00" y="289.10" width="35.00" height="66.90" fill="none" stroke="#777" stroke-width="0.9" rx="14.875" />
<rect x="243.00" y="291.60" width="31.00" height="61.40" fill="none" stroke="#aaa" stroke-width="0.6" rx="13.950000000000001" />
<circle cx="258.50" cy="293.10" r="1.20" fill="none" stroke="#666" stroke-width="0.7" />
<path d="M244,360 Q258.5,366 273,360" fill="none" stroke="#888" stroke-width="0.8" />
<line x1="247.00" y1="365.00" x2="270.00" y2="365.00" stroke="#999" stroke-width="0.8" />
<rect x="236.60" y="269.50" width="45.40" height="13.80" fill="#f1f0e6" stroke="#333" stroke-width="0.8" rx="0" />
<circle cx="240.00" cy="272.30" r="0.60" fill="#222" stroke="#222" stroke-width="0.3" />
<circle cx="242.20" cy="276.50" r="0.60" fill="#222" stroke="#222" stroke-width="0.3" />
<circle cx="240.00" cy="280.70" r="0.60" fill="#222" stroke="#222" stroke-width="0.3" />
<circle cx="245.40" cy="272.30" r="0.60" fill="#222" stroke="#222" stroke-width="0.3" />
<circle cx="247.60" cy="276.50" r="0.60" fill="#222" stroke="#222" stroke-width="0.3" />
<circle cx="245.40" cy="280.70" r="0.60" fill="#222" stroke="#222" stroke-width="0.3" />
<circle cx="250.80" cy="272.30" r="0.60" fill="#222" stroke="#222" stroke-width="0.3" />
<circle cx="253.00" cy="276.50" r="0.60" fill="#222" stroke="#222" stroke-width="0.3" />
<circle cx="250.80" cy="280.70" r="0.60" fill="#222" stroke="#222" stroke-width="0.3" />
<circle cx="256.20" cy="272.30" r="0.60" fill="#222" stroke="#222" stroke-width="0.3" />
<circle cx="258.40" cy="276.50" r="0.60" fill="#222" stroke="#222" stroke-width="0.3" />
<circle cx="256.20" cy="280.70" r="0.60" fill="#222" stroke="#222" stroke-width="0.3" />
<circle cx="261.60" cy="272.30" r="0.60" fill="#222" stroke="#222" stroke-width="0.3" />
<circle cx="263.80" cy="276.50" r="0.60" fill="#222" stroke="#222" stroke-width="0.3" />
<circle cx="261.60" cy="280.70" r="0.60" fill="#222" stroke="#222" stroke-width="0.3" />
<circle cx="267.00" cy="272.30" r="0.60" fill="#222" stroke="#222" stroke-width="0.3" />
<circle cx="269.20" cy="276.50" r="0.60" fill="#222" stroke="#222" stroke-width="0.3" />
<circle cx="267.00" cy="280.70" r="0.60" fill="#222" stroke="#222" stroke-width="0.3" />
<circle cx="272.40" cy="272.30" r="0.60" fill="#222" stroke="#222" stroke-width="0.3" />
<circle cx="274.60" cy="276.50" r="0.60" fill="#222" stroke="#222" stroke-width="0.3" />
<circle cx="272.40" cy="280.70" r="0.60" fill="#222" stroke="#222" stroke-width="0.3" />
<circle cx="277.80" cy="272.30" r="0.60" fill="#222" stroke="#222" stroke-width="0.3" />
<circle cx="280.00" cy="276.50" r="0.60" fill="#222" stroke="#222" stroke-width="0.3" />
<circle cx="277.80" cy="280.70" r="0.60" fill="#222" stroke="#222" stroke-width="0.3" />
<rect x="928.50" y="671.60" width="45.00" height="80.20" fill="#fff" stroke="#777" stroke-width="0.9" rx="0" />
<rect x="932.00" y="674.60" width="38.00" height="68.20" fill="none" stroke="#666" stroke-width="1" rx="14.25" />
<rect x="934.50" y="677.10" width="33.00" height="61.70" fill="none" stroke="#777" stroke-width="0.9" rx="14.025" />
<rect x="936.50" y="679.60" width="29.00" height="56.20" fill="none" stroke="#aaa" stroke-width="0.6" rx="13.05" />
<circle cx="951.00" cy="681.10" r="1.20" fill="none" stroke="#666" stroke-width="0.7" />
<path d="M937.5,742.8 Q951.0,748.8 964.5,742.8" fill="none" stroke="#888" stroke-width="0.8" />
<line x1="940.50" y1="747.80" x2="961.50" y2="747.80" stroke="#999" stroke-width="0.8" />
<rect x="537.00" y="320.50" width="51.70" height="157.00" fill="#fff" stroke="#000" stroke-width="1.3" rx="0" />
<rect x="554.50" y="381.00" width="31.50" height="40.00" fill="#fff" stroke="#777" stroke-width="1.2" rx="0" />
<rect x="556.00" y="382.50" width="28.50" height="37.00" fill="none" stroke="#aaa" stroke-width="0.6" rx="0" />
<rect x="560.00" y="384.00" width="23.00" height="16.50" fill="#fff" stroke="#555" stroke-width="1" rx="2.5" />
<rect x="560.00" y="402.00" width="23.00" height="16.50" fill="#fff" stroke="#555" stroke-width="1" rx="2.5" />
<circle cx="567.50" cy="392.30" r="2.00" fill="none" stroke="#444" stroke-width="0.9" />
<circle cx="567.50" cy="410.00" r="2.00" fill="none" stroke="#444" stroke-width="0.9" />
<line x1="586.50" y1="386.00" x2="586.50" y2="416.00" stroke="#666" stroke-width="1.2" />
<rect x="653.80" y="265.80" width="34.20" height="73.00" fill="#fff" stroke="#000" stroke-width="1.2" rx="0" />
<rect x="653.80" y="388.50" width="34.20" height="65.00" fill="#fff" stroke="#000" stroke-width="1.2" rx="0" />
<rect x="654.50" y="339.00" width="33.10" height="49.40" fill="#fff" stroke="#000" stroke-width="1.5" rx="0" />
<rect x="650.30" y="345.00" width="2.30" height="38.00" fill="#fff" stroke="#555" stroke-width="0.8" rx="0" />
<circle cx="664.20" cy="351.00" r="6.60" fill="none" stroke="#666" stroke-width="1.1" stroke-dasharray="7 2.5"/>
<circle cx="664.20" cy="351.00" r="4.30" fill="none" stroke="#999" stroke-width="0.8" stroke-dasharray="5 3"/>
<circle cx="664.20" cy="377.30" r="6.60" fill="none" stroke="#666" stroke-width="1.1" stroke-dasharray="7 2.5"/>
<circle cx="664.20" cy="377.30" r="4.30" fill="none" stroke="#999" stroke-width="0.8" stroke-dasharray="5 3"/>
<circle cx="678.80" cy="351.00" r="4.80" fill="none" stroke="#777" stroke-width="1.0" stroke-dasharray="5 2.5"/>
<circle cx="678.80" cy="351.00" r="2.80" fill="none" stroke="#aaa" stroke-width="0.7" stroke-dasharray="3 2"/>
<circle cx="678.80" cy="377.30" r="4.80" fill="none" stroke="#777" stroke-width="1.0" stroke-dasharray="5 2.5"/>
<circle cx="678.80" cy="377.30" r="2.80" fill="none" stroke="#aaa" stroke-width="0.7" stroke-dasharray="3 2"/>
<circle cx="660.30" cy="360.50" r="0.80" fill="none" stroke="#555" stroke-width="0.5" />
<circle cx="663.30" cy="360.50" r="0.80" fill="none" stroke="#555" stroke-width="0.5" />
<circle cx="660.30" cy="364.00" r="0.80" fill="none" stroke="#555" stroke-width="0.5" />
<circle cx="663.30" cy="364.00" r="0.80" fill="none" stroke="#555" stroke-width="0.5" />
<circle cx="660.30" cy="367.00" r="0.80" fill="none" stroke="#555" stroke-width="0.5" />
<circle cx="663.30" cy="367.00" r="0.80" fill="none" stroke="#555" stroke-width="0.5" />
<rect x="653.30" y="494.00" width="35.00" height="8.00" fill="#fff" stroke="#000" stroke-width="1.1" rx="0" />
<rect x="650.50" y="453.20" width="39.20" height="42.80" fill="#fff" stroke="#000" stroke-width="1.6" rx="2.5" />
<rect x="662.00" y="456.30" width="24.00" height="36.20" fill="none" stroke="#bbb" stroke-width="0.7" rx="0" />
<text transform="translate(675,461.3) rotate(90)" font-family="'Liberation Sans',sans-serif" font-size="12" font-weight="bold" fill="#000" stroke="#000" stroke-width="0.3" text-rendering="geometricPrecision" textLength="18.5" lengthAdjust="spacingAndGlyphs">wall</text>
<text transform="translate(662.3,461.3) rotate(90)" font-family="'Liberation Sans',sans-serif" font-size="12" font-weight="bold" fill="#000" stroke="#000" stroke-width="0.3" text-rendering="geometricPrecision" textLength="22" lengthAdjust="spacingAndGlyphs">oven</text>
<rect x="649.00" y="506.30" width="53.50" height="47.70" fill="#fff" stroke="#444" stroke-width="1.1" rx="0" />
<line x1="700.00" y1="506.30" x2="700.00" y2="554.00" stroke="#666" stroke-width="0.8" />
<line x1="650.00" y1="507.50" x2="701.00" y2="553.70" stroke="#444" stroke-width="0.9" />
<text transform="translate(673,515) rotate(90)" font-family="'Liberation Sans',sans-serif" font-size="6.5" font-weight="bold" fill="#111" textLength="33" lengthAdjust="spacingAndGlyphs">REFRIGERATOR</text>
<rect x="654.30" y="556.30" width="35.70" height="118.20" fill="#fff" stroke="#000" stroke-width="1.2" rx="0" />
<rect x="657.50" y="578.00" width="26.20" height="30.00" fill="#fff" stroke="#666" stroke-width="1" rx="0" />
<rect x="659.00" y="579.50" width="23.20" height="27.00" fill="none" stroke="#aaa" stroke-width="0.6" rx="0" />
<rect x="662.00" y="582.00" width="18.00" height="22.50" fill="#fff" stroke="#444" stroke-width="1.2" rx="3.5" />
<circle cx="670.00" cy="593.00" r="1.40" fill="#555" stroke="#333" stroke-width="0.8" />
<line x1="671.00" y1="594.00" x2="677.00" y2="599.50" stroke="#444" stroke-width="1.3" />
<line x1="675.50" y1="596.00" x2="678.00" y2="598.50" stroke="#444" stroke-width="0.8" />
<circle cx="459.00" cy="587.00" r="9.00" fill="none" stroke="#111" stroke-width="1.5" stroke-dasharray="5 1.8"/>
<path d="M451.14,581.49 A9.6,9.6 0 0 1 466.86,581.49" fill="none" stroke="#000" stroke-width="3" stroke-dasharray="8 1.2 6 1"/>
<circle cx="459.00" cy="646.00" r="9.00" fill="none" stroke="#111" stroke-width="1.5" stroke-dasharray="5 1.8"/>
<path d="M466.86,651.51 A9.6,9.6 0 0 1 451.14,651.51" fill="none" stroke="#000" stroke-width="3" stroke-dasharray="8 1.2 6 1"/>
<circle cx="482.80" cy="587.00" r="9.00" fill="none" stroke="#111" stroke-width="1.5" stroke-dasharray="5 1.8"/>
<path d="M474.94,581.49 A9.6,9.6 0 0 1 490.66,581.49" fill="none" stroke="#000" stroke-width="3" stroke-dasharray="8 1.2 6 1"/>
<circle cx="482.80" cy="646.00" r="9.00" fill="none" stroke="#111" stroke-width="1.5" stroke-dasharray="5 1.8"/>
<path d="M490.66,651.51 A9.6,9.6 0 0 1 474.94,651.51" fill="none" stroke="#000" stroke-width="3" stroke-dasharray="8 1.2 6 1"/>
<circle cx="507.00" cy="587.00" r="9.00" fill="none" stroke="#111" stroke-width="1.5" stroke-dasharray="5 1.8"/>
<path d="M499.14,581.49 A9.6,9.6 0 0 1 514.86,581.49" fill="none" stroke="#000" stroke-width="3" stroke-dasharray="8 1.2 6 1"/>
<circle cx="507.00" cy="646.00" r="9.00" fill="none" stroke="#111" stroke-width="1.5" stroke-dasharray="5 1.8"/>
<path d="M514.86,651.51 A9.6,9.6 0 0 1 499.14,651.51" fill="none" stroke="#000" stroke-width="3" stroke-dasharray="8 1.2 6 1"/>
<circle cx="531.30" cy="587.00" r="9.00" fill="none" stroke="#111" stroke-width="1.5" stroke-dasharray="5 1.8"/>
<path d="M523.44,581.49 A9.6,9.6 0 0 1 539.16,581.49" fill="none" stroke="#000" stroke-width="3" stroke-dasharray="8 1.2 6 1"/>
<circle cx="531.30" cy="646.00" r="9.00" fill="none" stroke="#111" stroke-width="1.5" stroke-dasharray="5 1.8"/>
<path d="M539.16,651.51 A9.6,9.6 0 0 1 523.44,651.51" fill="none" stroke="#000" stroke-width="3" stroke-dasharray="8 1.2 6 1"/>
<circle cx="435.20" cy="615.80" r="9.00" fill="none" stroke="#111" stroke-width="1.5" stroke-dasharray="5 1.8"/>
<circle cx="558.50" cy="616.00" r="9.00" fill="none" stroke="#111" stroke-width="1.5" stroke-dasharray="5 1.8"/>
<path d="M564.01,608.14 A9.6,9.6 0 0 1 564.01,623.86" fill="none" stroke="#000" stroke-width="3" stroke-dasharray="8 1.2 6 1"/>
<rect x="447.00" y="599.30" width="100.00" height="34.30" fill="#fff" stroke="#000" stroke-width="1.6" rx="0" stroke-dasharray="30 1 12 0.8 20 1.2"/>
<g transform="translate(326.3,311.3) scale(1,1)">
<rect x="0.00" y="0.00" width="96.30" height="44.20" fill="#fff" stroke="#333" stroke-width="1.4" rx="2.8" />
<line x1="9.20" y1="5.00" x2="9.20" y2="44.20" stroke="#444" stroke-width="0.9" />
<line x1="87.70" y1="5.00" x2="87.70" y2="44.20" stroke="#444" stroke-width="0.9" />
<line x1="9.20" y1="5.00" x2="87.70" y2="5.00" stroke="#444" stroke-width="0.8" />
<line x1="9.20" y1="14.70" x2="87.70" y2="14.70" stroke="#666" stroke-width="0.8" />
<line x1="9.20" y1="13.20" x2="87.70" y2="13.20" stroke="#999" stroke-width="0.5" />
<line x1="48.15" y1="0.00" x2="48.15" y2="44.20" stroke="#333" stroke-width="1.2" />
<line x1="0.50" y1="42.20" x2="95.80" y2="42.20" stroke="#555" stroke-width="0.8" />
<rect x="26.00" y="3.40" width="21.50" height="10.60" fill="#fff" stroke="#777" stroke-width="0.6" rx="0" />
<rect x="51.00" y="3.40" width="24.00" height="10.60" fill="#fff" stroke="#777" stroke-width="0.6" rx="0" />
<g transform="translate(13.5,17.5) rotate(-35)">
<rect x="-9.50" y="-6.00" width="19.00" height="12.00" fill="#fff" stroke="#555" stroke-width="0.8" rx="0" />
</g>
<g transform="translate(27.5,16.5) rotate(-20)">
<rect x="-10.00" y="-6.00" width="20.00" height="12.00" fill="#fff" stroke="#444" stroke-width="0.7" rx="0" />
<rect x="-2.99" y="-3.35" width="1.91" height="0.89" fill="#111" />
<rect x="0.61" y="-1.29" width="1.08" height="1.41" fill="#111" />
<rect x="-7.86" y="-0.64" width="1.10" height="0.91" fill="#111" />
<rect x="-1.28" y="3.14" width="1.17" height="1.07" fill="#111" />
<rect x="2.17" y="4.30" width="1.81" height="1.28" fill="#111" />
<rect x="8.10" y="-4.35" width="2.20" height="1.15" fill="#111" />
<rect x="-6.05" y="-3.67" width="1.43" height="1.78" fill="#111" />
<rect x="-5.43" y="0.78" width="1.89" height="1.25" fill="#111" />
<rect x="0.81" y="-4.20" width="1.08" height="1.05" fill="#111" />
<rect x="3.07" y="-0.70" width="1.44" height="1.50" fill="#111" />
<rect x="-0.80" y="-1.92" width="2.11" height="1.64" fill="#111" />
<rect x="-4.35" y="0.71" width="1.74" height="1.85" fill="#111" />
<rect x="3.90" y="-2.04" width="2.37" height="0.94" fill="#111" />
<rect x="-1.39" y="2.47" width="1.21" height="1.39" fill="#111" />
<rect x="-7.83" y="1.61" width="2.07" height="1.49" fill="#111" />
<rect x="6.38" y="-1.79" width="1.97" height="1.51" fill="#111" />
<rect x="1.36" y="-0.42" width="2.18" height="1.93" fill="#111" />
<rect x="-0.44" y="1.58" width="1.08" height="1.64" fill="#111" />
<rect x="2.50" y="4.73" width="2.15" height="1.14" fill="#111" />
<rect x="-1.94" y="1.62" width="1.03" height="1.35" fill="#111" />
<rect x="-5.64" y="-3.68" width="1.08" height="1.72" fill="#111" />
<rect x="-6.30" y="-2.42" width="1.55" height="1.85" fill="#111" />
<rect x="-7.13" y="-0.49" width="1.77" height="1.86" fill="#111" />
<rect x="5.43" y="3.49" width="1.39" height="1.30" fill="#111" />
<rect x="-2.40" y="3.69" width="2.34" height="0.98" fill="#111" />
<rect x="-5.50" y="-2.57" width="1.33" height="1.38" fill="#111" />
</g>
<g transform="translate(84.30000000000001,17) rotate(40)">
<rect x="-10.00" y="-6.00" width="20.00" height="12.00" fill="#fff" stroke="#555" stroke-width="0.8" rx="0" />
</g>
<g transform="translate(83.80000000000001,19.5) rotate(52)">
<rect x="-11.00" y="-6.00" width="22.00" height="12.00" fill="url(#stripe)" stroke="#444" stroke-width="0.8" rx="0" />
</g>
</g>
<g transform="translate(748.9,0) scale(-1,1)">
<g transform="translate(326.3,462.2) scale(1,-1)">
<rect x="0.00" y="0.00" width="96.30" height="41.20" fill="#fff" stroke="#333" stroke-width="1.4" rx="2.8" />
<line x1="9.20" y1="5.00" x2="9.20" y2="41.20" stroke="#444" stroke-width="0.9" />
<line x1="87.70" y1="5.00" x2="87.70" y2="41.20" stroke="#444" stroke-width="0.9" />
<line x1="9.20" y1="5.00" x2="87.70" y2="5.00" stroke="#444" stroke-width="0.8" />
<line x1="9.20" y1="14.70" x2="87.70" y2="14.70" stroke="#666" stroke-width="0.8" />
<line x1="9.20" y1="13.20" x2="87.70" y2="13.20" stroke="#999" stroke-width="0.5" />
<line x1="48.15" y1="0.00" x2="48.15" y2="41.20" stroke="#333" stroke-width="1.2" />
<line x1="0.50" y1="39.20" x2="95.80" y2="39.20" stroke="#555" stroke-width="0.8" />
<rect x="26.00" y="3.40" width="21.50" height="10.60" fill="#fff" stroke="#777" stroke-width="0.6" rx="0" />
<rect x="51.00" y="3.40" width="24.00" height="10.60" fill="#fff" stroke="#777" stroke-width="0.6" rx="0" />
<g transform="translate(13.5,17.5) rotate(-35)">
<rect x="-9.50" y="-6.00" width="19.00" height="12.00" fill="#fff" stroke="#555" stroke-width="0.8" rx="0" />
</g>
<g transform="translate(27.5,16.5) rotate(-20)">
<rect x="-10.00" y="-6.00" width="20.00" height="12.00" fill="#fff" stroke="#444" stroke-width="0.7" rx="0" />
<rect x="-2.99" y="-3.35" width="1.91" height="0.89" fill="#111" />
<rect x="0.61" y="-1.29" width="1.08" height="1.41" fill="#111" />
<rect x="-7.86" y="-0.64" width="1.10" height="0.91" fill="#111" />
<rect x="-1.28" y="3.14" width="1.17" height="1.07" fill="#111" />
<rect x="2.17" y="4.30" width="1.81" height="1.28" fill="#111" />
<rect x="8.10" y="-4.35" width="2.20" height="1.15" fill="#111" />
<rect x="-6.05" y="-3.67" width="1.43" height="1.78" fill="#111" />
<rect x="-5.43" y="0.78" width="1.89" height="1.25" fill="#111" />
<rect x="0.81" y="-4.20" width="1.08" height="1.05" fill="#111" />
<rect x="3.07" y="-0.70" width="1.44" height="1.50" fill="#111" />
<rect x="-0.80" y="-1.92" width="2.11" height="1.64" fill="#111" />
<rect x="-4.35" y="0.71" width="1.74" height="1.85" fill="#111" />
<rect x="3.90" y="-2.04" width="2.37" height="0.94" fill="#111" />
<rect x="-1.39" y="2.47" width="1.21" height="1.39" fill="#111" />
<rect x="-7.83" y="1.61" width="2.07" height="1.49" fill="#111" />
<rect x="6.38" y="-1.79" width="1.97" height="1.51" fill="#111" />
<rect x="1.36" y="-0.42" width="2.18" height="1.93" fill="#111" />
<rect x="-0.44" y="1.58" width="1.08" height="1.64" fill="#111" />
<rect x="2.50" y="4.73" width="2.15" height="1.14" fill="#111" />
<rect x="-1.94" y="1.62" width="1.03" height="1.35" fill="#111" />
<rect x="-5.64" y="-3.68" width="1.08" height="1.72" fill="#111" />
<rect x="-6.30" y="-2.42" width="1.55" height="1.85" fill="#111" />
<rect x="-7.13" y="-0.49" width="1.77" height="1.86" fill="#111" />
<rect x="5.43" y="3.49" width="1.39" height="1.30" fill="#111" />
<rect x="-2.40" y="3.69" width="2.34" height="0.98" fill="#111" />
<rect x="-5.50" y="-2.57" width="1.33" height="1.38" fill="#111" />
</g>
<g transform="translate(84.30000000000001,17) rotate(40)">
<rect x="-10.00" y="-6.00" width="20.00" height="12.00" fill="#fff" stroke="#555" stroke-width="0.8" rx="0" />
</g>
<g transform="translate(83.80000000000001,19.5) rotate(52)">
<rect x="-11.00" y="-6.00" width="22.00" height="12.00" fill="url(#stripe)" stroke="#444" stroke-width="0.8" rx="0" />
</g>
</g>
</g>
<rect x="465.00" y="742.00" width="8.60" height="14.50" fill="#fff" stroke="#222" stroke-width="1.2" rx="2" />
<rect x="473.60" y="742.00" width="40.40" height="15.50" fill="#fff" stroke="#222" stroke-width="1.2" rx="2" />
<rect x="474.00" y="756.00" width="82.00" height="47.60" fill="#fff" stroke="#222" stroke-width="1.3" rx="1.5" />
<rect x="556.60" y="755.00" width="26.70" height="49.00" fill="#fff" stroke="#222" stroke-width="1.3" rx="2.5" />
<rect x="474.00" y="803.60" width="41.00" height="47.90" fill="#fff" stroke="#222" stroke-width="1.3" rx="1.5" />
<rect x="474.00" y="851.50" width="41.00" height="48.00" fill="#fff" stroke="#222" stroke-width="1.3" rx="1.5" />
<rect x="474.00" y="899.50" width="41.00" height="47.50" fill="#fff" stroke="#222" stroke-width="1.3" rx="1.5" />
<rect x="465.00" y="947.00" width="8.60" height="15.00" fill="#fff" stroke="#222" stroke-width="1.2" rx="2" />
<rect x="473.60" y="947.00" width="40.40" height="15.00" fill="#fff" stroke="#222" stroke-width="1.2" rx="2" />
<rect x="464.00" y="756.50" width="10.00" height="47.10" fill="#fff" stroke="#222" stroke-width="1.1" rx="4" />
<path d="M466.8,760.5 Q465.6,780.05 466.8,799.6" fill="none" stroke="#666" stroke-width="0.6" />
<line x1="472.20" y1="758.50" x2="472.20" y2="801.60" stroke="#777" stroke-width="0.6" />
<rect x="475.20" y="758.70" width="9.00" height="42.70" fill="#fff" stroke="#222" stroke-width="1" rx="3.5" />
<rect x="464.00" y="803.60" width="10.00" height="47.90" fill="#fff" stroke="#222" stroke-width="1.1" rx="4" />
<path d="M466.8,807.6 Q465.6,827.55 466.8,847.5" fill="none" stroke="#666" stroke-width="0.6" />
<line x1="472.20" y1="805.60" x2="472.20" y2="849.50" stroke="#777" stroke-width="0.6" />
<rect x="475.20" y="805.80" width="9.00" height="43.50" fill="#fff" stroke="#222" stroke-width="1" rx="3.5" />
<rect x="464.00" y="851.50" width="10.00" height="48.00" fill="#fff" stroke="#222" stroke-width="1.1" rx="4" />
<path d="M466.8,855.5 Q465.6,875.5 466.8,895.5" fill="none" stroke="#666" stroke-width="0.6" />
<line x1="472.20" y1="853.50" x2="472.20" y2="897.50" stroke="#777" stroke-width="0.6" />
<rect x="475.20" y="853.70" width="9.00" height="43.60" fill="#fff" stroke="#222" stroke-width="1" rx="3.5" />
<rect x="464.00" y="899.50" width="10.00" height="47.50" fill="#fff" stroke="#222" stroke-width="1.1" rx="4" />
<path d="M466.8,903.5 Q465.6,923.25 466.8,943" fill="none" stroke="#666" stroke-width="0.6" />
<line x1="472.20" y1="901.50" x2="472.20" y2="945.00" stroke="#777" stroke-width="0.6" />
<rect x="475.20" y="901.70" width="9.00" height="43.10" fill="#fff" stroke="#222" stroke-width="1" rx="3.5" />
<path d="M489.4,767.6 L492.25,766.85 L493,764.0 L493.75,766.85 L496.6,767.6 L493.75,768.35 L493,771.2 L492.25,768.35 Z" fill="#111" stroke="#111" stroke-width="0.5" />
<path d="M489.4,792.4 L492.25,791.65 L493,788.8 L493.75,791.65 L496.6,792.4 L493.75,793.15 L493,796.0 L492.25,793.15 Z" fill="#111" stroke="#111" stroke-width="0.5" />
<path d="M502.7,767.6 L505.55,766.85 L506.3,764.0 L507.05,766.85 L509.90000000000003,767.6 L507.05,768.35 L506.3,771.2 L505.55,768.35 Z" fill="#111" stroke="#111" stroke-width="0.5" />
<path d="M502.7,792.4 L505.55,791.65 L506.3,788.8 L507.05,791.65 L509.90000000000003,792.4 L507.05,793.15 L506.3,796.0 L505.55,793.15 Z" fill="#111" stroke="#111" stroke-width="0.5" />
<path d="M516.4,767.6 L519.25,766.85 L520,764.0 L520.75,766.85 L523.6,767.6 L520.75,768.35 L520,771.2 L519.25,768.35 Z" fill="#111" stroke="#111" stroke-width="0.5" />
<path d="M516.4,792.4 L519.25,791.65 L520,788.8 L520.75,791.65 L523.6,792.4 L520.75,793.15 L520,796.0 L519.25,793.15 Z" fill="#111" stroke="#111" stroke-width="0.5" />
<path d="M530.4,767.6 L533.25,766.85 L534,764.0 L534.75,766.85 L537.6,767.6 L534.75,768.35 L534,771.2 L533.25,768.35 Z" fill="#111" stroke="#111" stroke-width="0.5" />
<path d="M530.4,792.4 L533.25,791.65 L534,788.8 L534.75,791.65 L537.6,792.4 L534.75,793.15 L534,796.0 L533.25,793.15 Z" fill="#111" stroke="#111" stroke-width="0.5" />
<path d="M543.4,767.6 L546.25,766.85 L547,764.0 L547.75,766.85 L550.6,767.6 L547.75,768.35 L547,771.2 L546.25,768.35 Z" fill="#111" stroke="#111" stroke-width="0.5" />
<path d="M543.4,792.4 L546.25,791.65 L547,788.8 L547.75,791.65 L550.6,792.4 L547.75,793.15 L547,796.0 L546.25,793.15 Z" fill="#111" stroke="#111" stroke-width="0.5" />
<path d="M560.4,767.6 L563.25,766.85 L564,764.0 L564.75,766.85 L567.6,767.6 L564.75,768.35 L564,771.2 L563.25,768.35 Z" fill="#111" stroke="#111" stroke-width="0.5" />
<path d="M560.4,792.4 L563.25,791.65 L564,788.8 L564.75,791.65 L567.6,792.4 L564.75,793.15 L564,796.0 L563.25,793.15 Z" fill="#111" stroke="#111" stroke-width="0.5" />
<path d="M572.6999999999999,767.6 L575.55,766.85 L576.3,764.0 L577.05,766.85 L579.9,767.6 L577.05,768.35 L576.3,771.2 L575.55,768.35 Z" fill="#111" stroke="#111" stroke-width="0.5" />
<path d="M572.6999999999999,792.4 L575.55,791.65 L576.3,788.8 L577.05,791.65 L579.9,792.4 L577.05,793.15 L576.3,796.0 L575.55,793.15 Z" fill="#111" stroke="#111" stroke-width="0.5" />
<path d="M489.4,816 L492.25,815.25 L493,812.4 L493.75,815.25 L496.6,816 L493.75,816.75 L493,819.6 L492.25,816.75 Z" fill="#111" stroke="#111" stroke-width="0.5" />
<path d="M489.4,840.4 L492.25,839.65 L493,836.8 L493.75,839.65 L496.6,840.4 L493.75,841.15 L493,844.0 L492.25,841.15 Z" fill="#111" stroke="#111" stroke-width="0.5" />
<path d="M489.4,863.6 L492.25,862.85 L493,860.0 L493.75,862.85 L496.6,863.6 L493.75,864.35 L493,867.2 L492.25,864.35 Z" fill="#111" stroke="#111" stroke-width="0.5" />
<path d="M489.4,888.4 L492.25,887.65 L493,884.8 L493.75,887.65 L496.6,888.4 L493.75,889.15 L493,892.0 L492.25,889.15 Z" fill="#111" stroke="#111" stroke-width="0.5" />
<path d="M489.4,912 L492.25,911.25 L493,908.4 L493.75,911.25 L496.6,912 L493.75,912.75 L493,915.6 L492.25,912.75 Z" fill="#111" stroke="#111" stroke-width="0.5" />
<path d="M489.4,936 L492.25,935.25 L493,932.4 L493.75,935.25 L496.6,936 L493.75,936.75 L493,939.6 L492.25,936.75 Z" fill="#111" stroke="#111" stroke-width="0.5" />
<path d="M502.7,816 L505.55,815.25 L506.3,812.4 L507.05,815.25 L509.90000000000003,816 L507.05,816.75 L506.3,819.6 L505.55,816.75 Z" fill="#111" stroke="#111" stroke-width="0.5" />
<path d="M502.7,840.4 L505.55,839.65 L506.3,836.8 L507.05,839.65 L509.90000000000003,840.4 L507.05,841.15 L506.3,844.0 L505.55,841.15 Z" fill="#111" stroke="#111" stroke-width="0.5" />
<path d="M502.7,863.6 L505.55,862.85 L506.3,860.0 L507.05,862.85 L509.90000000000003,863.6 L507.05,864.35 L506.3,867.2 L505.55,864.35 Z" fill="#111" stroke="#111" stroke-width="0.5" />
<path d="M502.7,888.4 L505.55,887.65 L506.3,884.8 L507.05,887.65 L509.90000000000003,888.4 L507.05,889.15 L506.3,892.0 L505.55,889.15 Z" fill="#111" stroke="#111" stroke-width="0.5" />
<path d="M502.7,912 L505.55,911.25 L506.3,908.4 L507.05,911.25 L509.90000000000003,912 L507.05,912.75 L506.3,915.6 L505.55,912.75 Z" fill="#111" stroke="#111" stroke-width="0.5" />
<path d="M502.7,936 L505.55,935.25 L506.3,932.4 L507.05,935.25 L509.90000000000003,936 L507.05,936.75 L506.3,939.6 L505.55,936.75 Z" fill="#111" stroke="#111" stroke-width="0.5" />
<rect x="553.00" y="911.00" width="38.00" height="49.00" fill="#fff" stroke="#222" stroke-width="1.3" rx="2.5" />
<path d="M559.6,922.6 L562.65,921.85 L563.4,918.8000000000001 L564.15,921.85 L567.1999999999999,922.6 L564.15,923.35 L563.4,926.4 L562.65,923.35 Z" fill="#111" stroke="#111" stroke-width="0.5" />
<path d="M559.6,947 L562.65,946.25 L563.4,943.2 L564.15,946.25 L567.1999999999999,947 L564.15,947.75 L563.4,950.8 L562.65,947.75 Z" fill="#111" stroke="#111" stroke-width="0.5" />
<path d="M576.2,922.6 L579.25,921.85 L580,918.8000000000001 L580.75,921.85 L583.8,922.6 L580.75,923.35 L580,926.4 L579.25,923.35 Z" fill="#111" stroke="#111" stroke-width="0.5" />
<path d="M576.2,947 L579.25,946.25 L580,943.2 L580.75,946.25 L583.8,947 L580.75,947.75 L580,950.8 L579.25,947.75 Z" fill="#111" stroke="#111" stroke-width="0.5" />
<g transform="translate(488,975) rotate(16.57)">
<rect x="0.00" y="-2.70" width="43.82" height="5.40" fill="#fff" stroke="#222" stroke-width="1.2" rx="0" />
<line x1="3.00" y1="0.00" x2="40.82" y2="0.00" stroke="#555" stroke-width="1.0" />
<rect x="0.00" y="-2.70" width="2.60" height="5.40" fill="#fff" stroke="#222" stroke-width="1.0" rx="0" />
<rect x="41.22" y="-2.70" width="2.60" height="5.40" fill="#fff" stroke="#222" stroke-width="1.0" rx="0" />
</g>
<g transform="translate(530,987.5) rotate(6.95)">
<rect x="0.00" y="-2.70" width="43.82" height="5.40" fill="#fff" stroke="#222" stroke-width="1.2" rx="0" />
<line x1="3.00" y1="0.00" x2="40.82" y2="0.00" stroke="#555" stroke-width="1.0" />
<rect x="0.00" y="-2.70" width="2.60" height="5.40" fill="#fff" stroke="#222" stroke-width="1.0" rx="0" />
<rect x="41.22" y="-2.70" width="2.60" height="5.40" fill="#fff" stroke="#222" stroke-width="1.0" rx="0" />
</g>
<g transform="translate(573.5,992.8) rotate(0.00)">
<rect x="0.00" y="-2.70" width="43.30" height="5.40" fill="#fff" stroke="#222" stroke-width="1.2" rx="0" />
<line x1="3.00" y1="0.00" x2="40.30" y2="0.00" stroke="#555" stroke-width="1.0" />
<rect x="0.00" y="-2.70" width="2.60" height="5.40" fill="#fff" stroke="#222" stroke-width="1.0" rx="0" />
<rect x="40.70" y="-2.70" width="2.60" height="5.40" fill="#fff" stroke="#222" stroke-width="1.0" rx="0" />
</g>
<g transform="translate(616.8,992.8) rotate(-8.11)">
<rect x="0.00" y="-2.70" width="41.11" height="5.40" fill="#fff" stroke="#222" stroke-width="1.2" rx="0" />
<line x1="3.00" y1="0.00" x2="38.11" y2="0.00" stroke="#555" stroke-width="1.0" />
<rect x="0.00" y="-2.70" width="2.60" height="5.40" fill="#fff" stroke="#222" stroke-width="1.0" rx="0" />
<rect x="38.51" y="-2.70" width="2.60" height="5.40" fill="#fff" stroke="#222" stroke-width="1.0" rx="0" />
</g>
<g transform="translate(657.5,987) rotate(-16.31)">
<rect x="0.00" y="-2.70" width="42.72" height="5.40" fill="#fff" stroke="#222" stroke-width="1.2" rx="0" />
<line x1="3.00" y1="0.00" x2="39.72" y2="0.00" stroke="#555" stroke-width="1.0" />
<rect x="0.00" y="-2.70" width="2.60" height="5.40" fill="#fff" stroke="#222" stroke-width="1.0" rx="0" />
<rect x="40.12" y="-2.70" width="2.60" height="5.40" fill="#fff" stroke="#222" stroke-width="1.0" rx="0" />
</g>
<line x1="261.30" y1="511.00" x2="261.30" y2="687.00" stroke="#777" stroke-width="0.8" />
<line x1="264.50" y1="511.00" x2="264.50" y2="687.00" stroke="#ccc" stroke-width="0.6" />
<rect x="262.60" y="514.50" width="5.00" height="4.00" fill="#fff" stroke="#333" stroke-width="0.9" rx="1" />
<rect x="262.60" y="679.50" width="5.00" height="4.00" fill="#fff" stroke="#333" stroke-width="0.9" rx="1" />
<path d="M262,511.5 L268,511.5" fill="none" stroke="#333" stroke-width="1" stroke-dasharray="2 2"/>
<path d="M262,686.5 L268,686.5" fill="none" stroke="#333" stroke-width="1" stroke-dasharray="2 2"/>
<line x1="266.20" y1="522.00" x2="266.20" y2="603.00" stroke="#444" stroke-width="1.1" />
<line x1="265.20" y1="655.00" x2="265.20" y2="666.00" stroke="#555" stroke-width="0.9" stroke-dasharray="3 3"/>
<path d="M270.5,527.2 L306.5,527.2" fill="none" stroke="#777" stroke-width="1.3" stroke-dasharray="4.5 3"/>
<path d="M311.9,528 L311.9,662" fill="none" stroke="#777" stroke-width="1.3" stroke-dasharray="4.5 3"/>
<path d="M270.5,669.4 L311,669.4" fill="none" stroke="#777" stroke-width="1.3" stroke-dasharray="4.5 3"/>
<rect x="31.00" y="898.60" width="135.50" height="11.40" fill="#fff" stroke="#555" stroke-width="0.8" rx="0" />
<rect x="33.00" y="900.10" width="3.00" height="8.40" fill="#fff" stroke="#555" stroke-width="0.7" rx="0" />
<rect x="161.50" y="900.10" width="3.00" height="8.40" fill="#fff" stroke="#555" stroke-width="0.7" rx="0" />
<line x1="45.00" y1="903.10" x2="112.30" y2="903.10" stroke="#444" stroke-width="0.9" />
<line x1="96.04" y1="905.70" x2="158.50" y2="905.70" stroke="#333" stroke-width="1.1" />
<line x1="30.00" y1="883.00" x2="171.00" y2="883.00" stroke="#777" stroke-width="1.3" stroke-dasharray="4 3"/>
<rect x="729.70" y="283.70" width="11.90" height="110.60" fill="#fff" stroke="#555" stroke-width="0.8" rx="0" />
<rect x="730.90" y="285.70" width="9.50" height="3.00" fill="#fff" stroke="#555" stroke-width="0.7" rx="0" />
<rect x="730.90" y="389.30" width="9.50" height="3.00" fill="#fff" stroke="#555" stroke-width="0.7" rx="0" />
<line x1="734.65" y1="292.70" x2="734.65" y2="347.85" stroke="#444" stroke-width="0.9" />
<line x1="736.65" y1="333.47" x2="736.65" y2="385.30" stroke="#444" stroke-width="0.9" />
<line x1="719.60" y1="274.00" x2="719.60" y2="422.00" stroke="#666" stroke-width="1.2" stroke-dasharray="4 3"/>
<line x1="723.70" y1="509.00" x2="723.70" y2="553.00" stroke="#666" stroke-width="1.2" stroke-dasharray="4 3"/>
<rect x="728.20" y="565.80" width="9.80" height="76.70" fill="#fff" stroke="#555" stroke-width="0.8" rx="0" />
<rect x="729.40" y="567.80" width="7.40" height="3.00" fill="#fff" stroke="#555" stroke-width="0.7" rx="0" />
<rect x="729.40" y="637.50" width="7.40" height="3.00" fill="#fff" stroke="#555" stroke-width="0.7" rx="0" />
<line x1="732.10" y1="574.80" x2="732.10" y2="610.29" stroke="#444" stroke-width="0.9" />
<line x1="734.10" y1="600.31" x2="734.10" y2="633.50" stroke="#444" stroke-width="0.9" />
<line x1="718.40" y1="566.00" x2="718.40" y2="641.00" stroke="#666" stroke-width="1.2" stroke-dasharray="4 3"/>
<rect x="178.40" y="754.30" width="42.60" height="40.10" fill="#fff" stroke="#000" stroke-width="1.4" rx="0" />
<rect x="184.40" y="761.00" width="34.60" height="26.00" fill="none" stroke="#ccc" stroke-width="0.7" rx="0" />
<rect x="223.60" y="754.30" width="43.40" height="40.10" fill="#fff" stroke="#000" stroke-width="1.4" rx="0" />
<rect x="228.00" y="761.00" width="36.00" height="26.00" fill="none" stroke="#ccc" stroke-width="0.7" rx="0" />
<text x="201.00" y="777.60" font-family="'Liberation Sans',sans-serif" font-size="11" font-weight="bold" font-style="normal" fill="#000" stroke="#000" stroke-width="0.6" text-anchor="middle" text-rendering="geometricPrecision" >W</text>
<text x="245.60" y="777.60" font-family="'Liberation Sans',sans-serif" font-size="11" font-weight="bold" font-style="normal" fill="#000" stroke="#000" stroke-width="0.6" text-anchor="middle" text-rendering="geometricPrecision" >D</text>
<rect x="256.20" y="773.00" width="12.80" height="28.00" fill="#e8151c" />
<line x1="180.00" y1="805.50" x2="266.00" y2="805.50" stroke="#ddd" stroke-width="0.8" />
<path d="M181,804.5 L196.75,822.5" fill="none" stroke="#555" stroke-width="3.2" />
<path d="M181,804.5 L196.75,822.5" fill="none" stroke="#fff" stroke-width="1.6" />
<path d="M212.5,804.5 L196.75,822.5" fill="none" stroke="#555" stroke-width="3.2" />
<path d="M212.5,804.5 L196.75,822.5" fill="none" stroke="#fff" stroke-width="1.6" />
<path d="M234,804.5 L249.5,822.5" fill="none" stroke="#555" stroke-width="3.2" />
<path d="M234,804.5 L249.5,822.5" fill="none" stroke="#fff" stroke-width="1.6" />
<path d="M265,804.5 L249.5,822.5" fill="none" stroke="#555" stroke-width="3.2" />
<path d="M265,804.5 L249.5,822.5" fill="none" stroke="#fff" stroke-width="1.6" />
<rect x="178.00" y="798.00" width="2.40" height="8.00" fill="#fff" stroke="#666" stroke-width="0.7" rx="0" />
<rect x="180.00" y="861.00" width="39.60" height="41.40" fill="#fff" />
<rect x="226.40" y="861.00" width="42.60" height="41.40" fill="#fff" />
<rect x="184.00" y="865.00" width="31.00" height="33.00" fill="none" stroke="#ddd" stroke-width="0.7" rx="0" />
<circle cx="199.00" cy="881.60" r="16.00" fill="none" stroke="#000" stroke-width="2" />
<text x="199.00" y="884.80" font-family="'Liberation Sans',sans-serif" font-size="8.6" font-weight="bold" font-style="normal" fill="#000" stroke="#000" stroke-width="0.6" text-anchor="middle" text-rendering="geometricPrecision" textLength="13.5" lengthAdjust="spacingAndGlyphs" >WH</text>
<rect x="229.50" y="863.50" width="37.00" height="36.00" fill="none" stroke="#ddd" stroke-width="0.7" rx="0" />
<rect x="233.30" y="866.00" width="30.70" height="32.30" fill="none" stroke="#111" stroke-width="1.5" rx="0" stroke-dasharray="5 2.6"/>
<text x="236.30" y="884.80" font-family="'Liberation Sans',sans-serif" font-size="11.4" font-weight="bold" font-style="normal" fill="#000" stroke="#000" stroke-width="0.6" text-anchor="start" text-rendering="geometricPrecision" textLength="19.5" lengthAdjust="spacingAndGlyphs" >AC2</text>
<rect x="163.70" y="1053.80" width="81.30" height="49.20" fill="none" stroke="#333" stroke-width="1" rx="0" stroke-dasharray="2.6 2.4"/>
<path d="M245,1053.8 L312.5,1053.8 L312.5,1097.5" fill="none" stroke="#444" stroke-width="0.9" />
<line x1="245.00" y1="1053.80" x2="245.00" y2="1136.00" stroke="#444" stroke-width="0.9" />
<rect x="160.00" y="1103.80" width="11.00" height="54.70" fill="#fff" stroke="#444" stroke-width="0.9" rx="2" />
<line x1="163.50" y1="1105.00" x2="163.50" y2="1150.00" stroke="#888" stroke-width="0.6" />
<circle cx="165.30" cy="1154.80" r="2.60" fill="none" stroke="#444" stroke-width="0.8" />
<rect x="303.80" y="1097.50" width="13.70" height="60.50" fill="#fff" stroke="#444" stroke-width="0.9" rx="2" />
<line x1="311.00" y1="1099.00" x2="311.00" y2="1150.00" stroke="#888" stroke-width="0.6" />
<line x1="171.00" y1="1103.50" x2="245.00" y2="1103.50" stroke="#444" stroke-width="0.8" />
<path d="M171,1136 L303.8,1136" fill="none" stroke="#444" stroke-width="0.9" />
<path d="M171,1136 L168.5,1157.5" fill="none" stroke="#444" stroke-width="0.8" />
<path d="M208.5,1136 L210.5,1157.5" fill="none" stroke="#444" stroke-width="0.9" />
<path d="M246.5,1136 L250.5,1165" fill="none" stroke="#444" stroke-width="0.9" />
<path d="M303.8,1136 L310,1157.5" fill="none" stroke="#444" stroke-width="0.8" />
<line x1="168.50" y1="1157.50" x2="310.00" y2="1157.50" stroke="#444" stroke-width="0.9" />
<rect x="159.50" y="1157.50" width="164.20" height="8.00" fill="none" stroke="#444" stroke-width="0.9" rx="1.5" />
<text x="267.00" y="65.80" font-family="'Liberation Sans',sans-serif" font-size="27.5" font-weight="bold" font-style="italic" fill="#000" stroke="#000" stroke-width="0.6" text-anchor="start" text-rendering="geometricPrecision" textLength="136.0" lengthAdjust="spacingAndGlyphs" >PROPERTY</text>
<text x="421.50" y="65.80" font-family="'Liberation Sans',sans-serif" font-size="27.5" font-weight="bold" font-style="italic" fill="#000" stroke="#000" stroke-width="0.6" text-anchor="start" text-rendering="geometricPrecision" textLength="106.0" lengthAdjust="spacingAndGlyphs" >LAYOUT</text>
<text x="126.50" y="181.60" font-family="'Liberation Sans',sans-serif" font-size="15.7" font-weight="bold" font-style="italic" fill="#000" stroke="#000" stroke-width="0.6" text-anchor="start" text-rendering="geometricPrecision" textLength="114.5" lengthAdjust="spacingAndGlyphs" >Back yard, Pool</text>
<text x="133.00" y="203.40" font-family="'Liberation Sans',sans-serif" font-size="15.7" font-weight="bold" font-style="italic" fill="#000" stroke="#000" stroke-width="0.6" text-anchor="start" text-rendering="geometricPrecision" textLength="100.7" lengthAdjust="spacingAndGlyphs" >Entrance/Exit</text>
<text x="377.00" y="178.00" font-family="'Liberation Sans',sans-serif" font-size="15.7" font-weight="bold" font-style="italic" fill="#000" stroke="#000" stroke-width="0.6" text-anchor="start" text-rendering="geometricPrecision" textLength="114.0" lengthAdjust="spacingAndGlyphs" >Back yard, Pool</text>
<text x="383.00" y="199.40" font-family="'Liberation Sans',sans-serif" font-size="15.7" font-weight="bold" font-style="italic" fill="#000" stroke="#000" stroke-width="0.6" text-anchor="start" text-rendering="geometricPrecision" textLength="101.0" lengthAdjust="spacingAndGlyphs" >Entrance/Exit</text>
<text x="180.30" y="296.60" font-family="'Liberation Sans',sans-serif" font-size="18.5" font-weight="bold" font-style="normal" fill="#d3131b" stroke="#d3131b" stroke-width="0.85" text-anchor="start" text-rendering="geometricPrecision" textLength="42.7" lengthAdjust="spacingAndGlyphs" >EXIT</text>
<text x="410.30" y="295.10" font-family="'Liberation Sans',sans-serif" font-size="18.5" font-weight="bold" font-style="normal" fill="#d3131b" stroke="#d3131b" stroke-width="0.85" text-anchor="start" text-rendering="geometricPrecision" textLength="43.4" lengthAdjust="spacingAndGlyphs" >EXIT</text>
<text x="372.50" y="910.00" font-family="'Liberation Sans',sans-serif" font-size="18.5" font-weight="bold" font-style="normal" fill="#d3131b" stroke="#d3131b" stroke-width="0.85" text-anchor="start" text-rendering="geometricPrecision" textLength="42.8" lengthAdjust="spacingAndGlyphs" >EXIT</text>
<text x="153.00" y="368.00" font-family="'Liberation Sans',sans-serif" font-size="12.5" font-weight="bold" font-style="italic" fill="#000" stroke="#000" stroke-width="0.6" text-anchor="start" text-rendering="geometricPrecision" textLength="48.0" lengthAdjust="spacingAndGlyphs" >MASTER</text>
<text x="153.00" y="385.60" font-family="'Liberation Sans',sans-serif" font-size="12.5" font-weight="bold" font-style="italic" fill="#000" stroke="#000" stroke-width="0.6" text-anchor="start" text-rendering="geometricPrecision" textLength="79.0" lengthAdjust="spacingAndGlyphs" >BATHROOM 1</text>
<text x="146.20" y="568.30" font-family="'Liberation Sans',sans-serif" font-size="15.7" font-weight="bold" font-style="italic" fill="#000" stroke="#000" stroke-width="0.6" text-anchor="start" text-rendering="geometricPrecision" textLength="61.8" lengthAdjust="spacingAndGlyphs" >MASTER</text>
<text x="131.20" y="589.30" font-family="'Liberation Sans',sans-serif" font-size="15.7" font-weight="bold" font-style="italic" fill="#000" stroke="#000" stroke-width="0.6" text-anchor="start" text-rendering="geometricPrecision" textLength="91.8" lengthAdjust="spacingAndGlyphs" >BEDROOM 1</text>
<text x="112.00" y="656.20" font-family="'Liberation Sans',sans-serif" font-size="12.5" font-weight="bold" font-style="italic" fill="#000" stroke="#000" stroke-width="0.6" text-anchor="start" text-rendering="geometricPrecision" textLength="29.5" lengthAdjust="spacingAndGlyphs" >KING</text>
<text x="69.50" y="795.50" font-family="'Liberation Sans',sans-serif" font-size="12.5" font-weight="bold" font-style="italic" fill="#000" stroke="#000" stroke-width="0.6" text-anchor="start" text-rendering="geometricPrecision" textLength="80.5" lengthAdjust="spacingAndGlyphs" >BATHROOM 4</text>
<text x="249.00" y="817.00" font-family="'Liberation Sans',sans-serif" font-size="12.8" font-weight="bold" font-style="italic" fill="#d3131b" stroke="#d3131b" stroke-width="0.6" text-anchor="start" text-rendering="geometricPrecision" textLength="24.0" lengthAdjust="spacingAndGlyphs" >FIRE</text>
<text x="220.40" y="833.60" font-family="'Liberation Sans',sans-serif" font-size="12.8" font-weight="bold" font-style="italic" fill="#d3131b" stroke="#d3131b" stroke-width="0.6" text-anchor="start" text-rendering="geometricPrecision" textLength="81.6" lengthAdjust="spacingAndGlyphs" >EXTINGUSHER</text>
<text x="126.00" y="1002.00" font-family="'Liberation Sans',sans-serif" font-size="15.7" font-weight="bold" font-style="italic" fill="#000" stroke="#000" stroke-width="0.6" text-anchor="start" text-rendering="geometricPrecision" textLength="92.7" lengthAdjust="spacingAndGlyphs" >BEDROOM 5</text>
<text x="127.00" y="1023.70" font-family="'Liberation Sans',sans-serif" font-size="15.7" font-weight="bold" font-style="italic" fill="#000" stroke="#000" stroke-width="0.6" text-anchor="start" text-rendering="geometricPrecision" textLength="91.0" lengthAdjust="spacingAndGlyphs" >PLAY ROOM</text>
<text x="200.00" y="1098.70" font-family="'Liberation Sans',sans-serif" font-size="12.5" font-weight="bold" font-style="italic" fill="#000" stroke="#000" stroke-width="0.6" text-anchor="start" text-rendering="geometricPrecision" textLength="30.5" lengthAdjust="spacingAndGlyphs" >SOFA</text>
<text x="200.00" y="1115.50" font-family="'Liberation Sans',sans-serif" font-size="12.5" font-weight="bold" font-style="italic" fill="#000" stroke="#000" stroke-width="0.6" text-anchor="start" text-rendering="geometricPrecision" textLength="23.7" lengthAdjust="spacingAndGlyphs" >BED</text>
<text x="379.50" y="1011.30" font-family="'Liberation Sans',sans-serif" font-size="16" font-weight="bold" font-style="italic" fill="#000" stroke="#000" stroke-width="0.6" text-anchor="start" text-rendering="geometricPrecision" textLength="51.0" lengthAdjust="spacingAndGlyphs" >FRONT</text>
<text x="354.50" y="1032.40" font-family="'Liberation Sans',sans-serif" font-size="15.7" font-weight="bold" font-style="italic" fill="#000" stroke="#000" stroke-width="0.6" text-anchor="start" text-rendering="geometricPrecision" textLength="100.5" lengthAdjust="spacingAndGlyphs" >Entrance/Exit</text>
<text x="510.00" y="516.40" font-family="'Liberation Sans',sans-serif" font-size="15.7" font-weight="bold" font-style="italic" fill="#000" stroke="#000" stroke-width="0.6" text-anchor="start" text-rendering="geometricPrecision" textLength="101.5" lengthAdjust="spacingAndGlyphs" >KITCHEN AND</text>
<text x="509.50" y="538.30" font-family="'Liberation Sans',sans-serif" font-size="15.7" font-weight="bold" font-style="italic" fill="#000" stroke="#000" stroke-width="0.6" text-anchor="start" text-rendering="geometricPrecision" textLength="99.5" lengthAdjust="spacingAndGlyphs" >DINING AREA</text>
<text x="558.60" y="845.80" font-family="'Liberation Sans',sans-serif" font-size="16" font-weight="bold" font-style="italic" fill="#000" stroke="#000" stroke-width="0.6" text-anchor="start" text-rendering="geometricPrecision" textLength="103.4" lengthAdjust="spacingAndGlyphs" >LIVING ROOM</text>
<text transform="translate(761.5,39) rotate(90)" font-family="'Liberation Sans',sans-serif" font-size="13.6" font-weight="bold" font-style="italic" fill="#000" stroke="#000" stroke-width="0.6" text-rendering="geometricPrecision" textLength="81.2" lengthAdjust="spacingAndGlyphs">BATHROOM 5</text>
<text x="854.80" y="110.60" font-family="'Liberation Sans',sans-serif" font-size="12.5" font-weight="bold" font-style="italic" fill="#000" stroke="#000" stroke-width="0.6" text-anchor="start" text-rendering="geometricPrecision" textLength="47.2" lengthAdjust="spacingAndGlyphs" >MASTER</text>
<text x="855.00" y="127.60" font-family="'Liberation Sans',sans-serif" font-size="12.5" font-weight="bold" font-style="italic" fill="#000" stroke="#000" stroke-width="0.6" text-anchor="start" text-rendering="geometricPrecision" textLength="80.0" lengthAdjust="spacingAndGlyphs" >BATHROOM 2</text>
<text x="840.00" y="245.20" font-family="'Liberation Sans',sans-serif" font-size="15.7" font-weight="bold" font-style="italic" fill="#000" stroke="#000" stroke-width="0.6" text-anchor="start" text-rendering="geometricPrecision" textLength="61.0" lengthAdjust="spacingAndGlyphs" >MASTER</text>
<text x="825.00" y="267.20" font-family="'Liberation Sans',sans-serif" font-size="15.7" font-weight="bold" font-style="italic" fill="#000" stroke="#000" stroke-width="0.6" text-anchor="start" text-rendering="geometricPrecision" textLength="92.0" lengthAdjust="spacingAndGlyphs" >BEDROOM 2</text>
<text x="873.00" y="355.80" font-family="'Liberation Sans',sans-serif" font-size="12.5" font-weight="bold" font-style="italic" fill="#000" stroke="#000" stroke-width="0.6" text-anchor="start" text-rendering="geometricPrecision" textLength="29.0" lengthAdjust="spacingAndGlyphs" >KING</text>
<text x="875.00" y="493.70" font-family="'Liberation Sans',sans-serif" font-size="12.5" font-weight="bold" font-style="italic" fill="#000" stroke="#000" stroke-width="0.6" text-anchor="start" text-rendering="geometricPrecision" textLength="40.7" lengthAdjust="spacingAndGlyphs" >QUEEN</text>
<text x="875.00" y="609.00" font-family="'Liberation Sans',sans-serif" font-size="12.5" font-weight="bold" font-style="italic" fill="#000" stroke="#000" stroke-width="0.6" text-anchor="start" text-rendering="geometricPrecision" textLength="40.7" lengthAdjust="spacingAndGlyphs" >QUEEN</text>
<text x="841.00" y="550.40" font-family="'Liberation Sans',sans-serif" font-size="15.7" font-weight="bold" font-style="italic" fill="#000" stroke="#000" stroke-width="0.6" text-anchor="start" text-rendering="geometricPrecision" textLength="93.0" lengthAdjust="spacingAndGlyphs" >BEDROOM 3</text>
<text x="839.40" y="697.20" font-family="'Liberation Sans',sans-serif" font-size="12.5" font-weight="bold" font-style="italic" fill="#000" stroke="#000" stroke-width="0.6" text-anchor="start" text-rendering="geometricPrecision" textLength="80.6" lengthAdjust="spacingAndGlyphs" >BATHROOM 3</text>
<text x="817.00" y="815.00" font-family="'Liberation Sans',sans-serif" font-size="15.7" font-weight="bold" font-style="italic" fill="#000" stroke="#000" stroke-width="0.6" text-anchor="start" text-rendering="geometricPrecision" textLength="92.0" lengthAdjust="spacingAndGlyphs" >BEDROOM 4</text>
<text x="783.00" y="885.00" font-family="'Liberation Sans',sans-serif" font-size="12.5" font-weight="bold" font-style="italic" fill="#000" stroke="#000" stroke-width="0.6" text-anchor="start" text-rendering="geometricPrecision" textLength="41.3" lengthAdjust="spacingAndGlyphs" >QUEEN</text>
<text x="897.40" y="888.40" font-family="'Liberation Sans',sans-serif" font-size="12.5" font-weight="bold" font-style="italic" fill="#000" stroke="#000" stroke-width="0.6" text-anchor="start" text-rendering="geometricPrecision" textLength="40.6" lengthAdjust="spacingAndGlyphs" >QUEEN</text>
<text x="4" y="604.5" font-family="'Liberation Sans',sans-serif" font-size="14.2" fill="#8c8c8c" fill-opacity="0.85" stroke="#fff" stroke-opacity="0.55" stroke-width="0.6" paint-order="stroke" textLength="205.5" lengthAdjust="spacingAndGlyphs">A11317844 © Miami MLS® 2025</text>
</svg>
</body></html>
